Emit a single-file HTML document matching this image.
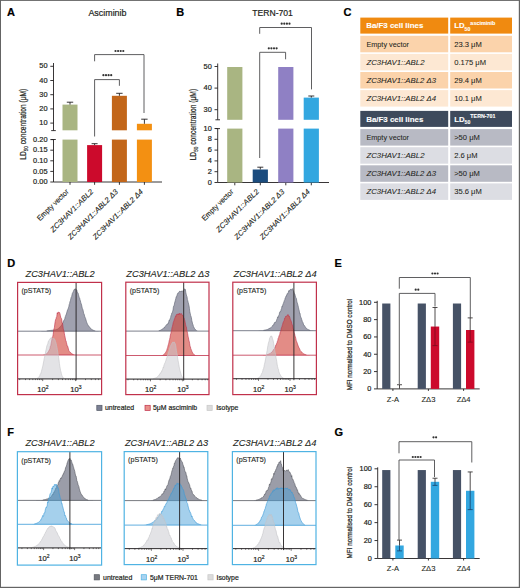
<!DOCTYPE html>
<html><head><meta charset="utf-8"><style>
html,body{margin:0;padding:0;background:#fff;}
body{width:520px;height:588px;overflow:hidden;}
svg{display:block;font-family:"Liberation Sans",sans-serif;}
</style></head><body>
<svg width="520" height="588" viewBox="0 0 520 588">
<rect x="0" y="0" width="520" height="588" fill="#fff"/>
<text x="7" y="15.8" font-size="11" text-anchor="start" font-weight="bold" font-style="normal" fill="#000" stroke="#000" stroke-width="0.2" >A</text>
<text x="88.4" y="16.4" font-size="9" text-anchor="start" font-weight="normal" font-style="normal" fill="#231f20" stroke="#231f20" stroke-width="0.2" textLength="38.1" lengthAdjust="spacingAndGlyphs" >Asciminib</text>
<line x1="53.50" y1="63.00" x2="53.50" y2="130.60" stroke="#231f20" stroke-width="0.9"/>
<line x1="51.20" y1="130.60" x2="55.80" y2="130.60" stroke="#231f20" stroke-width="0.9"/>
<line x1="53.50" y1="139.50" x2="53.50" y2="182.00" stroke="#231f20" stroke-width="0.9"/>
<line x1="51.20" y1="139.50" x2="55.80" y2="139.50" stroke="#231f20" stroke-width="0.9"/>
<line x1="50.30" y1="66.30" x2="53.50" y2="66.30" stroke="#231f20" stroke-width="0.9"/>
<text x="47.5" y="68.39999999999999" font-size="7.4" text-anchor="end" font-weight="normal" font-style="normal" fill="#231f20" stroke="#231f20" stroke-width="0.2" >50</text>
<line x1="50.30" y1="80.50" x2="53.50" y2="80.50" stroke="#231f20" stroke-width="0.9"/>
<text x="47.5" y="82.6" font-size="7.4" text-anchor="end" font-weight="normal" font-style="normal" fill="#231f20" stroke="#231f20" stroke-width="0.2" >40</text>
<line x1="50.30" y1="94.70" x2="53.50" y2="94.70" stroke="#231f20" stroke-width="0.9"/>
<text x="47.5" y="96.79999999999998" font-size="7.4" text-anchor="end" font-weight="normal" font-style="normal" fill="#231f20" stroke="#231f20" stroke-width="0.2" >30</text>
<line x1="50.30" y1="108.90" x2="53.50" y2="108.90" stroke="#231f20" stroke-width="0.9"/>
<text x="47.5" y="110.99999999999999" font-size="7.4" text-anchor="end" font-weight="normal" font-style="normal" fill="#231f20" stroke="#231f20" stroke-width="0.2" >20</text>
<line x1="50.30" y1="123.10" x2="53.50" y2="123.10" stroke="#231f20" stroke-width="0.9"/>
<text x="47.5" y="125.19999999999999" font-size="7.4" text-anchor="end" font-weight="normal" font-style="normal" fill="#231f20" stroke="#231f20" stroke-width="0.2" >10</text>
<line x1="50.30" y1="139.60" x2="53.50" y2="139.60" stroke="#231f20" stroke-width="0.9"/>
<text x="47.5" y="141.7" font-size="7.4" text-anchor="end" font-weight="normal" font-style="normal" fill="#231f20" stroke="#231f20" stroke-width="0.2" >0.20</text>
<line x1="50.30" y1="150.20" x2="53.50" y2="150.20" stroke="#231f20" stroke-width="0.9"/>
<text x="47.5" y="152.3" font-size="7.4" text-anchor="end" font-weight="normal" font-style="normal" fill="#231f20" stroke="#231f20" stroke-width="0.2" >0.15</text>
<line x1="50.30" y1="160.80" x2="53.50" y2="160.80" stroke="#231f20" stroke-width="0.9"/>
<text x="47.5" y="162.9" font-size="7.4" text-anchor="end" font-weight="normal" font-style="normal" fill="#231f20" stroke="#231f20" stroke-width="0.2" >0.10</text>
<line x1="50.30" y1="171.40" x2="53.50" y2="171.40" stroke="#231f20" stroke-width="0.9"/>
<text x="47.5" y="173.5" font-size="7.4" text-anchor="end" font-weight="normal" font-style="normal" fill="#231f20" stroke="#231f20" stroke-width="0.2" >0.05</text>
<line x1="50.30" y1="182.00" x2="53.50" y2="182.00" stroke="#231f20" stroke-width="0.9"/>
<text x="47.5" y="184.1" font-size="7.4" text-anchor="end" font-weight="normal" font-style="normal" fill="#231f20" stroke="#231f20" stroke-width="0.2" >0.00</text>
<line x1="53.50" y1="182.00" x2="162.00" y2="182.00" stroke="#231f20" stroke-width="0.9"/>
<line x1="70.00" y1="182.00" x2="70.00" y2="184.80" stroke="#231f20" stroke-width="0.9"/>
<rect x="62.50" y="104.60" width="15.00" height="25.70" fill="#a9b582" />
<rect x="62.50" y="139.60" width="15.00" height="42.40" fill="#a9b582" />
<line x1="70.00" y1="102.20" x2="70.00" y2="104.60" stroke="#231f20" stroke-width="0.9"/>
<line x1="66.80" y1="102.20" x2="73.20" y2="102.20" stroke="#231f20" stroke-width="0.9"/>
<line x1="94.60" y1="182.00" x2="94.60" y2="184.80" stroke="#231f20" stroke-width="0.9"/>
<rect x="87.10" y="145.10" width="15.00" height="36.90" fill="#cc0a2c" />
<line x1="94.60" y1="143.70" x2="94.60" y2="145.10" stroke="#231f20" stroke-width="0.9"/>
<line x1="91.60" y1="143.70" x2="97.60" y2="143.70" stroke="#231f20" stroke-width="0.9"/>
<line x1="119.40" y1="182.00" x2="119.40" y2="184.80" stroke="#231f20" stroke-width="0.9"/>
<rect x="111.90" y="95.80" width="15.00" height="34.50" fill="#c2661a" />
<rect x="111.90" y="139.60" width="15.00" height="42.40" fill="#c2661a" />
<line x1="119.40" y1="93.30" x2="119.40" y2="95.80" stroke="#231f20" stroke-width="0.9"/>
<line x1="116.20" y1="93.30" x2="122.60" y2="93.30" stroke="#231f20" stroke-width="0.9"/>
<line x1="144.40" y1="182.00" x2="144.40" y2="184.80" stroke="#231f20" stroke-width="0.9"/>
<rect x="136.90" y="123.80" width="15.00" height="6.50" fill="#f39012" />
<rect x="136.90" y="139.60" width="15.00" height="42.40" fill="#f39012" />
<line x1="144.40" y1="119.20" x2="144.40" y2="123.80" stroke="#231f20" stroke-width="0.9"/>
<line x1="141.20" y1="119.20" x2="147.60" y2="119.20" stroke="#231f20" stroke-width="0.9"/>
<polyline points="94.6,61.3 94.6,54.6 144,54.6 144,113" fill="none" stroke="#4d4d4f" stroke-width="0.9"/>
<polyline points="94.6,136.5 94.6,79.6 119.4,79.6 119.4,85.8" fill="none" stroke="#4d4d4f" stroke-width="0.9"/>
<circle cx="115.50" cy="51" r="1.1" fill="#333"/>
<circle cx="118.10" cy="51" r="1.1" fill="#333"/>
<circle cx="120.70" cy="51" r="1.1" fill="#333"/>
<circle cx="123.30" cy="51" r="1.1" fill="#333"/>
<circle cx="103.40" cy="75.2" r="1.1" fill="#333"/>
<circle cx="106.00" cy="75.2" r="1.1" fill="#333"/>
<circle cx="108.60" cy="75.2" r="1.1" fill="#333"/>
<circle cx="111.20" cy="75.2" r="1.1" fill="#333"/>
<text transform="translate(25.9,124.2) rotate(-90)" font-size="8.2" text-anchor="middle" fill="#231f20" stroke="#231f20" stroke-width="0.2" textLength="71" lengthAdjust="spacingAndGlyphs">LD<tspan font-size="5.6" dy="2.2">50</tspan><tspan dy="-2.2"> concentration (μM)</tspan></text>
<text transform="translate(69.10,192.20) rotate(-45)" font-size="7.5" text-anchor="end" font-style="normal" fill="#231f20" stroke="#231f20" stroke-width="0.12" textLength="41.2" lengthAdjust="spacingAndGlyphs">Empty vector</text>
<text transform="translate(93.70,192.20) rotate(-45)" font-size="7.5" text-anchor="end" font-style="italic" fill="#231f20" stroke="#231f20" stroke-width="0.12" textLength="57.2" lengthAdjust="spacingAndGlyphs">ZC3HAV1::ABL2</text>
<text transform="translate(118.50,192.20) rotate(-45)" font-size="7.5" text-anchor="end" font-style="italic" fill="#231f20" stroke="#231f20" stroke-width="0.12" textLength="67.5" lengthAdjust="spacingAndGlyphs">ZC3HAV1::ABL2 Δ3</text>
<text transform="translate(143.50,192.20) rotate(-45)" font-size="7.5" text-anchor="end" font-style="italic" fill="#231f20" stroke="#231f20" stroke-width="0.12" textLength="67.5" lengthAdjust="spacingAndGlyphs">ZC3HAV1::ABL2 Δ4</text>
<text x="176.3" y="16.3" font-size="11" text-anchor="start" font-weight="bold" font-style="normal" fill="#000" stroke="#000" stroke-width="0.2" >B</text>
<text x="252.3" y="16.4" font-size="9" text-anchor="start" font-weight="normal" font-style="normal" fill="#231f20" stroke="#231f20" stroke-width="0.2" textLength="40.6" lengthAdjust="spacingAndGlyphs" >TERN-701</text>
<line x1="217.70" y1="63.50" x2="217.70" y2="119.80" stroke="#231f20" stroke-width="0.9"/>
<line x1="215.40" y1="119.80" x2="220.00" y2="119.80" stroke="#231f20" stroke-width="0.9"/>
<line x1="217.70" y1="128.60" x2="217.70" y2="182.50" stroke="#231f20" stroke-width="0.9"/>
<line x1="215.40" y1="128.60" x2="220.00" y2="128.60" stroke="#231f20" stroke-width="0.9"/>
<line x1="214.50" y1="66.50" x2="217.70" y2="66.50" stroke="#231f20" stroke-width="0.9"/>
<text x="211.8" y="68.6" font-size="7.4" text-anchor="end" font-weight="normal" font-style="normal" fill="#231f20" stroke="#231f20" stroke-width="0.2" >50</text>
<line x1="214.50" y1="88.10" x2="217.70" y2="88.10" stroke="#231f20" stroke-width="0.9"/>
<text x="211.8" y="90.19999999999999" font-size="7.4" text-anchor="end" font-weight="normal" font-style="normal" fill="#231f20" stroke="#231f20" stroke-width="0.2" >40</text>
<line x1="214.50" y1="109.70" x2="217.70" y2="109.70" stroke="#231f20" stroke-width="0.9"/>
<text x="211.8" y="111.8" font-size="7.4" text-anchor="end" font-weight="normal" font-style="normal" fill="#231f20" stroke="#231f20" stroke-width="0.2" >30</text>
<line x1="214.50" y1="128.50" x2="217.70" y2="128.50" stroke="#231f20" stroke-width="0.9"/>
<text x="211.8" y="130.6" font-size="7.4" text-anchor="end" font-weight="normal" font-style="normal" fill="#231f20" stroke="#231f20" stroke-width="0.2" >10</text>
<line x1="214.50" y1="139.30" x2="217.70" y2="139.30" stroke="#231f20" stroke-width="0.9"/>
<text x="211.8" y="141.4" font-size="7.4" text-anchor="end" font-weight="normal" font-style="normal" fill="#231f20" stroke="#231f20" stroke-width="0.2" >8</text>
<line x1="214.50" y1="150.10" x2="217.70" y2="150.10" stroke="#231f20" stroke-width="0.9"/>
<text x="211.8" y="152.2" font-size="7.4" text-anchor="end" font-weight="normal" font-style="normal" fill="#231f20" stroke="#231f20" stroke-width="0.2" >6</text>
<line x1="214.50" y1="160.90" x2="217.70" y2="160.90" stroke="#231f20" stroke-width="0.9"/>
<text x="211.8" y="163.0" font-size="7.4" text-anchor="end" font-weight="normal" font-style="normal" fill="#231f20" stroke="#231f20" stroke-width="0.2" >4</text>
<line x1="214.50" y1="171.70" x2="217.70" y2="171.70" stroke="#231f20" stroke-width="0.9"/>
<text x="211.8" y="173.79999999999998" font-size="7.4" text-anchor="end" font-weight="normal" font-style="normal" fill="#231f20" stroke="#231f20" stroke-width="0.2" >2</text>
<line x1="214.50" y1="182.50" x2="217.70" y2="182.50" stroke="#231f20" stroke-width="0.9"/>
<text x="211.8" y="184.6" font-size="7.4" text-anchor="end" font-weight="normal" font-style="normal" fill="#231f20" stroke="#231f20" stroke-width="0.2" >0</text>
<line x1="217.70" y1="182.50" x2="329.00" y2="182.50" stroke="#231f20" stroke-width="0.9"/>
<line x1="234.80" y1="182.50" x2="234.80" y2="185.30" stroke="#231f20" stroke-width="0.9"/>
<rect x="227.20" y="67.00" width="15.20" height="52.80" fill="#a9b582" />
<rect x="227.20" y="128.60" width="15.20" height="53.90" fill="#a9b582" />
<line x1="260.30" y1="182.50" x2="260.30" y2="185.30" stroke="#231f20" stroke-width="0.9"/>
<rect x="252.70" y="169.50" width="15.20" height="13.00" fill="#1b4c7e" />
<line x1="260.30" y1="167.20" x2="260.30" y2="169.50" stroke="#231f20" stroke-width="0.9"/>
<line x1="257.30" y1="167.20" x2="263.30" y2="167.20" stroke="#231f20" stroke-width="0.9"/>
<line x1="285.80" y1="182.50" x2="285.80" y2="185.30" stroke="#231f20" stroke-width="0.9"/>
<rect x="278.20" y="67.00" width="15.20" height="52.80" fill="#8f80c4" />
<rect x="278.20" y="128.60" width="15.20" height="53.90" fill="#8f80c4" />
<line x1="311.30" y1="182.50" x2="311.30" y2="185.30" stroke="#231f20" stroke-width="0.9"/>
<rect x="303.70" y="97.60" width="15.20" height="22.20" fill="#33a7e0" />
<rect x="303.70" y="128.60" width="15.20" height="53.90" fill="#33a7e0" />
<line x1="311.30" y1="96.00" x2="311.30" y2="97.60" stroke="#231f20" stroke-width="0.9"/>
<line x1="308.30" y1="96.00" x2="314.30" y2="96.00" stroke="#231f20" stroke-width="0.9"/>
<polyline points="259.7,33.8 259.7,27.5 311.5,27.5 311.5,89.4" fill="none" stroke="#4d4d4f" stroke-width="0.9"/>
<polyline points="259.7,158 259.7,52.3 285.6,52.3 285.6,59.3" fill="none" stroke="#4d4d4f" stroke-width="0.9"/>
<circle cx="281.70" cy="23.7" r="1.1" fill="#333"/>
<circle cx="284.30" cy="23.7" r="1.1" fill="#333"/>
<circle cx="286.90" cy="23.7" r="1.1" fill="#333"/>
<circle cx="289.50" cy="23.7" r="1.1" fill="#333"/>
<circle cx="268.80" cy="48.3" r="1.1" fill="#333"/>
<circle cx="271.40" cy="48.3" r="1.1" fill="#333"/>
<circle cx="274.00" cy="48.3" r="1.1" fill="#333"/>
<circle cx="276.60" cy="48.3" r="1.1" fill="#333"/>
<text transform="translate(195.7,124.6) rotate(-90)" font-size="8.2" text-anchor="middle" fill="#231f20" stroke="#231f20" stroke-width="0.2" textLength="71.5" lengthAdjust="spacingAndGlyphs">LD<tspan font-size="5.6" dy="2.2">50</tspan><tspan dy="-2.2"> concentration (μM)</tspan></text>
<text transform="translate(233.90,192.20) rotate(-45)" font-size="7.5" text-anchor="end" font-style="normal" fill="#231f20" stroke="#231f20" stroke-width="0.12" textLength="41.2" lengthAdjust="spacingAndGlyphs">Empty vector</text>
<text transform="translate(259.40,192.20) rotate(-45)" font-size="7.5" text-anchor="end" font-style="italic" fill="#231f20" stroke="#231f20" stroke-width="0.12" textLength="57.2" lengthAdjust="spacingAndGlyphs">ZC3HAV1::ABL2</text>
<text transform="translate(284.90,192.20) rotate(-45)" font-size="7.5" text-anchor="end" font-style="italic" fill="#231f20" stroke="#231f20" stroke-width="0.12" textLength="67.5" lengthAdjust="spacingAndGlyphs">ZC3HAV1::ABL2 Δ3</text>
<text transform="translate(310.40,192.20) rotate(-45)" font-size="7.5" text-anchor="end" font-style="italic" fill="#231f20" stroke="#231f20" stroke-width="0.12" textLength="67.5" lengthAdjust="spacingAndGlyphs">ZC3HAV1::ABL2 Δ4</text>
<text x="343.5" y="16" font-size="11" text-anchor="start" font-weight="bold" font-style="normal" fill="#000" stroke="#000" stroke-width="0.2" >C</text>
<rect x="360.30" y="17.60" width="87.90" height="16.00" fill="#f08a10" />
<rect x="450.20" y="17.60" width="61.80" height="16.00" fill="#f08a10" />
<text x="366.2" y="28.400000000000002" font-size="7.6" text-anchor="start" font-weight="bold" font-style="normal" fill="#fff" stroke="#fff" stroke-width="0.1" textLength="57.2" lengthAdjust="spacingAndGlyphs" >Ba/F3 cell lines</text>
<text x="454.2" y="28.400000000000002" font-size="7.8" font-weight="bold" fill="#fff" stroke="#fff" stroke-width="0.1">LD<tspan font-size="5.2" dy="2.2">50</tspan><tspan font-size="5.2" dy="-5.6" textLength="25" lengthAdjust="spacingAndGlyphs">asciminib</tspan></text>
<rect x="360.30" y="35.80" width="87.90" height="16.50" fill="#fbd3ab" />
<rect x="450.20" y="35.80" width="61.80" height="16.50" fill="#fbd3ab" />
<text x="366.4" y="46.699999999999996" font-size="7.7" text-anchor="start" font-weight="normal" font-style="normal" fill="#231f20" stroke="#231f20" stroke-width="0.06" textLength="42.5" lengthAdjust="spacingAndGlyphs" >Empty vector</text>
<text x="454.2" y="46.699999999999996" font-size="7.6" text-anchor="start" font-weight="normal" font-style="normal" fill="#231f20" stroke="#231f20" stroke-width="0.06" >23.3 μM</text>
<rect x="360.30" y="53.90" width="87.90" height="16.50" fill="#fde8d3" />
<rect x="450.20" y="53.90" width="61.80" height="16.50" fill="#fde8d3" />
<text x="366.4" y="64.8" font-size="7.7" text-anchor="start" font-weight="normal" font-style="italic" fill="#231f20" stroke="#231f20" stroke-width="0.06" textLength="58.1" lengthAdjust="spacingAndGlyphs" >ZC3HAV1::ABL2</text>
<text x="454.2" y="64.8" font-size="7.6" text-anchor="start" font-weight="normal" font-style="normal" fill="#231f20" stroke="#231f20" stroke-width="0.06" >0.175 μM</text>
<rect x="360.30" y="72.00" width="87.90" height="16.50" fill="#fbd3ab" />
<rect x="450.20" y="72.00" width="61.80" height="16.50" fill="#fbd3ab" />
<text x="366.4" y="82.9" font-size="7.7" text-anchor="start" font-weight="normal" font-style="italic" fill="#231f20" stroke="#231f20" stroke-width="0.06" textLength="69.7" lengthAdjust="spacingAndGlyphs" >ZC3HAV1::ABL2 Δ3</text>
<text x="454.2" y="82.9" font-size="7.6" text-anchor="start" font-weight="normal" font-style="normal" fill="#231f20" stroke="#231f20" stroke-width="0.06" >29.4 μM</text>
<rect x="360.30" y="90.10" width="87.90" height="16.50" fill="#fde8d3" />
<rect x="450.20" y="90.10" width="61.80" height="16.50" fill="#fde8d3" />
<text x="366.4" y="101.0" font-size="7.7" text-anchor="start" font-weight="normal" font-style="italic" fill="#231f20" stroke="#231f20" stroke-width="0.06" textLength="69.7" lengthAdjust="spacingAndGlyphs" >ZC3HAV1::ABL2 Δ4</text>
<text x="454.2" y="101.0" font-size="7.6" text-anchor="start" font-weight="normal" font-style="normal" fill="#231f20" stroke="#231f20" stroke-width="0.06" >10.1 μM</text>
<rect x="360.30" y="110.90" width="87.90" height="16.00" fill="#3e4a5c" />
<rect x="450.20" y="110.90" width="61.80" height="16.00" fill="#3e4a5c" />
<text x="366.2" y="121.7" font-size="7.6" text-anchor="start" font-weight="bold" font-style="normal" fill="#fff" stroke="#fff" stroke-width="0.1" textLength="57.2" lengthAdjust="spacingAndGlyphs" >Ba/F3 cell lines</text>
<text x="454.2" y="121.7" font-size="7.8" font-weight="bold" fill="#fff" stroke="#fff" stroke-width="0.1">LD<tspan font-size="5.2" dy="2.2">50</tspan><tspan font-size="5.2" dy="-5.6" textLength="25" lengthAdjust="spacingAndGlyphs">TERN-701</tspan></text>
<rect x="360.30" y="129.10" width="87.90" height="16.50" fill="#b8bac4" />
<rect x="450.20" y="129.10" width="61.80" height="16.50" fill="#b8bac4" />
<text x="366.4" y="140.0" font-size="7.7" text-anchor="start" font-weight="normal" font-style="normal" fill="#231f20" stroke="#231f20" stroke-width="0.06" textLength="42.5" lengthAdjust="spacingAndGlyphs" >Empty vector</text>
<text x="454.2" y="140.0" font-size="7.6" text-anchor="start" font-weight="normal" font-style="normal" fill="#231f20" stroke="#231f20" stroke-width="0.06" >&gt;50 μM</text>
<rect x="360.30" y="147.20" width="87.90" height="16.50" fill="#dcdde3" />
<rect x="450.20" y="147.20" width="61.80" height="16.50" fill="#dcdde3" />
<text x="366.4" y="158.1" font-size="7.7" text-anchor="start" font-weight="normal" font-style="italic" fill="#231f20" stroke="#231f20" stroke-width="0.06" textLength="58.1" lengthAdjust="spacingAndGlyphs" >ZC3HAV1::ABL2</text>
<text x="454.2" y="158.1" font-size="7.6" text-anchor="start" font-weight="normal" font-style="normal" fill="#231f20" stroke="#231f20" stroke-width="0.06" >2.6 μM</text>
<rect x="360.30" y="165.30" width="87.90" height="16.50" fill="#b8bac4" />
<rect x="450.20" y="165.30" width="61.80" height="16.50" fill="#b8bac4" />
<text x="366.4" y="176.20000000000002" font-size="7.7" text-anchor="start" font-weight="normal" font-style="italic" fill="#231f20" stroke="#231f20" stroke-width="0.06" textLength="69.7" lengthAdjust="spacingAndGlyphs" >ZC3HAV1::ABL2 Δ3</text>
<text x="454.2" y="176.20000000000002" font-size="7.6" text-anchor="start" font-weight="normal" font-style="normal" fill="#231f20" stroke="#231f20" stroke-width="0.06" >&gt;50 μM</text>
<rect x="360.30" y="183.40" width="87.90" height="16.50" fill="#dcdde3" />
<rect x="450.20" y="183.40" width="61.80" height="16.50" fill="#dcdde3" />
<text x="366.4" y="194.3" font-size="7.7" text-anchor="start" font-weight="normal" font-style="italic" fill="#231f20" stroke="#231f20" stroke-width="0.06" textLength="69.7" lengthAdjust="spacingAndGlyphs" >ZC3HAV1::ABL2 Δ4</text>
<text x="454.2" y="194.3" font-size="7.6" text-anchor="start" font-weight="normal" font-style="normal" fill="#231f20" stroke="#231f20" stroke-width="0.06" >35.6 μM</text>
<text x="7.2" y="266.8" font-size="11" text-anchor="start" font-weight="bold" font-style="normal" fill="#000" stroke="#000" stroke-width="0.2" >D</text>
<text x="60.1" y="277.0" font-size="9.3" text-anchor="middle" font-weight="normal" font-style="italic" fill="#231f20" stroke="#231f20" stroke-width="0.1" >ZC3HAV1::ABL2</text>
<clipPath id="c17282"><rect x="17.6" y="282.4" width="84" height="112.2"/></clipPath>
<g clip-path="url(#c17282)">
<path d="M38.00,331.20 L38.00,331.18 L38.40,331.18 L38.80,331.17 L39.20,331.17 L39.60,331.16 L40.00,331.16 L40.40,331.15 L40.80,331.14 L41.20,331.13 L41.60,331.12 L42.00,331.10 L42.40,331.09 L42.80,331.07 L43.20,331.06 L43.60,331.04 L44.00,331.01 L44.40,330.99 L44.80,330.96 L45.20,330.94 L45.60,330.91 L46.00,330.88 L46.40,330.84 L46.80,330.81 L47.20,330.77 L47.60,330.73 L48.00,330.69 L48.40,330.65 L48.80,330.61 L49.20,330.57 L49.60,330.53 L50.00,330.48 L50.40,330.44 L50.80,330.40 L51.20,330.35 L51.60,330.31 L52.00,330.27 L52.40,330.23 L52.80,330.18 L53.20,330.09 L53.60,330.01 L54.00,330.07 L54.40,329.93 L54.80,329.88 L55.20,329.81 L55.60,329.85 L56.00,329.78 L56.40,329.59 L56.80,329.36 L57.20,329.35 L57.60,329.10 L58.00,328.95 L58.40,328.52 L58.80,328.18 L59.20,328.10 L59.60,327.43 L60.00,327.54 L60.40,326.62 L60.80,326.04 L61.20,326.04 L61.60,324.95 L62.00,324.41 L62.40,323.23 L62.80,323.31 L63.20,322.09 L63.60,320.80 L64.00,320.16 L64.40,319.58 L64.80,318.84 L65.20,316.75 L65.60,316.21 L66.00,314.45 L66.40,314.31 L66.80,312.31 L67.20,311.07 L67.60,309.68 L68.00,309.46 L68.40,307.71 L68.80,306.74 L69.20,304.52 L69.60,303.59 L70.00,301.45 L70.40,300.73 L70.80,298.83 L71.20,297.32 L71.60,296.70 L72.00,295.00 L72.40,293.26 L72.80,292.62 L73.20,291.78 L73.60,290.98 L74.00,289.61 L74.40,289.76 L74.80,288.91 L75.20,288.83 L75.60,288.93 L76.00,289.78 L76.40,289.72 L76.80,290.13 L77.20,291.67 L77.60,292.57 L78.00,292.88 L78.40,294.37 L78.80,295.91 L79.20,297.46 L79.60,297.87 L80.00,299.71 L80.40,300.96 L80.80,302.63 L81.20,303.66 L81.60,305.02 L82.00,307.01 L82.40,308.77 L82.80,309.15 L83.20,310.69 L83.60,313.18 L84.00,313.91 L84.40,315.11 L84.80,316.74 L85.20,317.59 L85.60,318.49 L86.00,320.05 L86.40,321.35 L86.80,322.57 L87.20,323.43 L87.60,324.37 L88.00,325.16 L88.40,325.75 L88.80,325.91 L89.20,326.75 L89.60,327.15 L90.00,327.61 L90.40,328.12 L90.80,328.83 L91.20,328.87 L91.60,329.43 L92.00,329.52 L92.40,329.76 L92.80,330.01 L93.20,330.22 L93.60,330.37 L94.00,330.51 L94.40,330.62 L94.80,330.72 L95.20,330.80 L95.60,330.87 L96.00,330.93 L96.40,330.98 L96.80,331.02 L97.20,331.05 L97.60,331.08 L98.00,331.10 L98.40,331.12 L98.80,331.14 L99.20,331.15 L99.60,331.16 L100.00,331.17 L100.00,331.20 Z" fill="#8f91a1" fill-opacity="0.85"/>
<path d="M47.20,330.77 L47.60,330.73 L48.00,330.69 L48.40,330.65 L48.80,330.61 L49.20,330.57 L49.60,330.53 L50.00,330.48 L50.40,330.44 L50.80,330.40 L51.20,330.35 L51.60,330.31 L52.00,330.27 L52.40,330.23 L52.80,330.18 L53.20,330.09 L53.60,330.01 L54.00,330.07 L54.40,329.93 L54.80,329.88 L55.20,329.81 L55.60,329.85 L56.00,329.78 L56.40,329.59 L56.80,329.36 L57.20,329.35 L57.60,329.10 L58.00,328.95 L58.40,328.52 L58.80,328.18 L59.20,328.10 L59.60,327.43 L60.00,327.54 L60.40,326.62 L60.80,326.04 L61.20,326.04 L61.60,324.95 L62.00,324.41 L62.40,323.23 L62.80,323.31 L63.20,322.09 L63.60,320.80 L64.00,320.16 L64.40,319.58 L64.80,318.84 L65.20,316.75 L65.60,316.21 L66.00,314.45 L66.40,314.31 L66.80,312.31 L67.20,311.07 L67.60,309.68 L68.00,309.46 L68.40,307.71 L68.80,306.74 L69.20,304.52 L69.60,303.59 L70.00,301.45 L70.40,300.73 L70.80,298.83 L71.20,297.32 L71.60,296.70 L72.00,295.00 L72.40,293.26 L72.80,292.62 L73.20,291.78 L73.60,290.98 L74.00,289.61 L74.40,289.76 L74.80,288.91 L75.20,288.83 L75.60,288.93 L76.00,289.78 L76.40,289.72 L76.80,290.13 L77.20,291.67 L77.60,292.57 L78.00,292.88 L78.40,294.37 L78.80,295.91 L79.20,297.46 L79.60,297.87 L80.00,299.71 L80.40,300.96 L80.80,302.63 L81.20,303.66 L81.60,305.02 L82.00,307.01 L82.40,308.77 L82.80,309.15 L83.20,310.69 L83.60,313.18 L84.00,313.91 L84.40,315.11 L84.80,316.74 L85.20,317.59 L85.60,318.49 L86.00,320.05 L86.40,321.35 L86.80,322.57 L87.20,323.43 L87.60,324.37 L88.00,325.16 L88.40,325.75 L88.80,325.91 L89.20,326.75 L89.60,327.15 L90.00,327.61 L90.40,328.12 L90.80,328.83 L91.20,328.87 L91.60,329.43 L92.00,329.52 L92.40,329.76 L92.80,330.01 L93.20,330.22 L93.60,330.37 L94.00,330.51 L94.40,330.62 L94.80,330.72" fill="none" stroke="#5a5f6e" stroke-width="0.6"/>
<line x1="17.60" y1="331.20" x2="101.60" y2="331.20" stroke="#5a5f6e" stroke-width="0.8"/>
<path d="M40.00,355.00 L40.00,354.99 L40.40,354.99 L40.80,354.98 L41.20,354.97 L41.60,354.96 L42.00,354.95 L42.40,354.93 L42.80,354.90 L43.20,354.87 L43.60,354.82 L44.00,354.76 L44.40,354.68 L44.80,354.59 L45.20,354.46 L45.60,354.30 L46.00,354.10 L46.40,353.96 L46.80,353.48 L47.20,353.27 L47.60,352.93 L48.00,352.20 L48.40,351.57 L48.80,350.84 L49.20,350.02 L49.60,349.39 L50.00,348.36 L50.40,346.09 L50.80,345.54 L51.20,343.12 L51.60,341.13 L52.00,339.07 L52.40,336.89 L52.80,336.49 L53.20,334.28 L53.60,330.83 L54.00,328.91 L54.40,327.51 L54.80,324.11 L55.20,321.46 L55.60,319.49 L56.00,319.08 L56.40,317.18 L56.80,316.42 L57.20,312.89 L57.60,313.81 L58.00,312.01 L58.40,312.21 L58.80,312.14 L59.20,312.64 L59.60,312.53 L60.00,313.93 L60.40,315.74 L60.80,317.50 L61.20,318.14 L61.60,318.74 L62.00,322.42 L62.40,323.05 L62.80,325.18 L63.20,328.36 L63.60,330.32 L64.00,331.23 L64.40,333.86 L64.80,335.91 L65.20,337.64 L65.60,340.37 L66.00,340.64 L66.40,342.53 L66.80,344.15 L67.20,345.99 L67.60,346.10 L68.00,347.29 L68.40,348.90 L68.80,350.51 L69.20,351.13 L69.60,351.75 L70.00,352.35 L70.40,352.37 L70.80,352.90 L71.20,353.45 L71.60,353.45 L72.00,353.84 L72.40,354.10 L72.80,354.28 L73.20,354.43 L73.60,354.55 L74.00,354.65 L74.40,354.73 L74.80,354.79 L75.20,354.84 L75.60,354.88 L76.00,354.91 L76.40,354.93 L76.80,354.95 L77.20,354.96 L77.60,354.97 L78.00,354.98 L78.40,354.98 L78.80,354.99 L79.20,354.99 L79.60,354.99 L80.00,355.00 L80.00,355.00 Z" fill="#d2463c" fill-opacity="0.62"/>
<path d="M44.80,354.59 L45.20,354.46 L45.60,354.30 L46.00,354.10 L46.40,353.96 L46.80,353.48 L47.20,353.27 L47.60,352.93 L48.00,352.20 L48.40,351.57 L48.80,350.84 L49.20,350.02 L49.60,349.39 L50.00,348.36 L50.40,346.09 L50.80,345.54 L51.20,343.12 L51.60,341.13 L52.00,339.07 L52.40,336.89 L52.80,336.49 L53.20,334.28 L53.60,330.83 L54.00,328.91 L54.40,327.51 L54.80,324.11 L55.20,321.46 L55.60,319.49 L56.00,319.08 L56.40,317.18 L56.80,316.42 L57.20,312.89 L57.60,313.81 L58.00,312.01 L58.40,312.21 L58.80,312.14 L59.20,312.64 L59.60,312.53 L60.00,313.93 L60.40,315.74 L60.80,317.50 L61.20,318.14 L61.60,318.74 L62.00,322.42 L62.40,323.05 L62.80,325.18 L63.20,328.36 L63.60,330.32 L64.00,331.23 L64.40,333.86 L64.80,335.91 L65.20,337.64 L65.60,340.37 L66.00,340.64 L66.40,342.53 L66.80,344.15 L67.20,345.99 L67.60,346.10 L68.00,347.29 L68.40,348.90 L68.80,350.51 L69.20,351.13 L69.60,351.75 L70.00,352.35 L70.40,352.37 L70.80,352.90 L71.20,353.45 L71.60,353.45 L72.00,353.84 L72.40,354.10 L72.80,354.28 L73.20,354.43 L73.60,354.55" fill="none" stroke="#c0304a" stroke-width="0.6"/>
<line x1="17.60" y1="355.00" x2="101.60" y2="355.00" stroke="#c0304a" stroke-width="0.8"/>
<path d="M35.00,378.90 L35.00,378.84 L35.40,378.80 L35.80,378.75 L36.20,378.68 L36.60,378.58 L37.00,378.45 L37.40,378.27 L37.80,378.03 L38.20,377.69 L38.60,377.26 L39.00,376.83 L39.40,376.23 L39.80,375.56 L40.20,374.34 L40.60,373.82 L41.00,372.84 L41.40,371.48 L41.80,370.04 L42.20,368.38 L42.60,366.74 L43.00,365.11 L43.40,362.94 L43.80,360.98 L44.20,358.66 L44.60,357.07 L45.00,355.22 L45.40,353.11 L45.80,350.81 L46.20,349.20 L46.60,347.11 L47.00,345.48 L47.40,344.55 L47.80,343.68 L48.20,341.83 L48.60,340.87 L49.00,340.51 L49.40,339.56 L49.80,339.49 L50.20,338.36 L50.60,338.18 L51.00,338.05 L51.40,337.74 L51.80,338.55 L52.20,338.15 L52.60,337.92 L53.00,337.85 L53.40,338.39 L53.80,338.84 L54.20,338.55 L54.60,339.64 L55.00,339.61 L55.40,341.39 L55.80,342.07 L56.20,343.55 L56.60,345.78 L57.00,347.42 L57.40,349.71 L57.80,352.38 L58.20,354.41 L58.60,357.20 L59.00,359.92 L59.40,363.39 L59.80,366.21 L60.20,368.17 L60.60,370.63 L61.00,371.83 L61.40,373.84 L61.80,375.20 L62.20,376.14 L62.60,376.91 L63.00,377.47 L63.40,377.98 L63.80,378.30 L64.20,378.53 L64.60,378.67 L65.00,378.77 L65.40,378.83 L65.80,378.86 L66.20,378.88 L66.60,378.89 L67.00,378.89 L67.40,378.90 L67.80,378.90 L68.20,378.90 L68.60,378.90 L69.00,378.90 L69.40,378.90 L69.80,378.90 L70.00,378.90 Z" fill="#c8c8ce" fill-opacity="0.5"/>
<path d="M37.00,378.45 L37.40,378.27 L37.80,378.03 L38.20,377.69 L38.60,377.26 L39.00,376.83 L39.40,376.23 L39.80,375.56 L40.20,374.34 L40.60,373.82 L41.00,372.84 L41.40,371.48 L41.80,370.04 L42.20,368.38 L42.60,366.74 L43.00,365.11 L43.40,362.94 L43.80,360.98 L44.20,358.66 L44.60,357.07 L45.00,355.22 L45.40,353.11 L45.80,350.81 L46.20,349.20 L46.60,347.11 L47.00,345.48 L47.40,344.55 L47.80,343.68 L48.20,341.83 L48.60,340.87 L49.00,340.51 L49.40,339.56 L49.80,339.49 L50.20,338.36 L50.60,338.18 L51.00,338.05 L51.40,337.74 L51.80,338.55 L52.20,338.15 L52.60,337.92 L53.00,337.85 L53.40,338.39 L53.80,338.84 L54.20,338.55 L54.60,339.64 L55.00,339.61 L55.40,341.39 L55.80,342.07 L56.20,343.55 L56.60,345.78 L57.00,347.42 L57.40,349.71 L57.80,352.38 L58.20,354.41 L58.60,357.20 L59.00,359.92 L59.40,363.39 L59.80,366.21 L60.20,368.17 L60.60,370.63 L61.00,371.83 L61.40,373.84 L61.80,375.20 L62.20,376.14 L62.60,376.91 L63.00,377.47 L63.40,377.98 L63.80,378.30" fill="none" stroke="#c4c4c8" stroke-width="0.6"/>
<line x1="17.60" y1="378.90" x2="101.60" y2="378.90" stroke="#c4c4c8" stroke-width="0.8"/>
</g>
<line x1="17.60" y1="378.90" x2="101.60" y2="378.90" stroke="#231f20" stroke-width="0.9"/>
<line x1="19.70" y1="378.90" x2="19.70" y2="380.10" stroke="#231f20" stroke-width="0.6"/>
<line x1="25.50" y1="378.90" x2="25.50" y2="380.10" stroke="#231f20" stroke-width="0.6"/>
<line x1="29.61" y1="378.90" x2="29.61" y2="380.10" stroke="#231f20" stroke-width="0.6"/>
<line x1="32.80" y1="378.90" x2="32.80" y2="380.10" stroke="#231f20" stroke-width="0.6"/>
<line x1="35.40" y1="378.90" x2="35.40" y2="380.10" stroke="#231f20" stroke-width="0.6"/>
<line x1="37.60" y1="378.90" x2="37.60" y2="380.10" stroke="#231f20" stroke-width="0.6"/>
<line x1="39.51" y1="378.90" x2="39.51" y2="380.10" stroke="#231f20" stroke-width="0.6"/>
<line x1="41.19" y1="378.90" x2="41.19" y2="380.10" stroke="#231f20" stroke-width="0.6"/>
<line x1="42.70" y1="378.90" x2="42.70" y2="381.10" stroke="#231f20" stroke-width="0.6"/>
<line x1="52.60" y1="378.90" x2="52.60" y2="380.10" stroke="#231f20" stroke-width="0.6"/>
<line x1="58.40" y1="378.90" x2="58.40" y2="380.10" stroke="#231f20" stroke-width="0.6"/>
<line x1="62.51" y1="378.90" x2="62.51" y2="380.10" stroke="#231f20" stroke-width="0.6"/>
<line x1="65.70" y1="378.90" x2="65.70" y2="380.10" stroke="#231f20" stroke-width="0.6"/>
<line x1="68.30" y1="378.90" x2="68.30" y2="380.10" stroke="#231f20" stroke-width="0.6"/>
<line x1="70.50" y1="378.90" x2="70.50" y2="380.10" stroke="#231f20" stroke-width="0.6"/>
<line x1="72.41" y1="378.90" x2="72.41" y2="380.10" stroke="#231f20" stroke-width="0.6"/>
<line x1="74.09" y1="378.90" x2="74.09" y2="380.10" stroke="#231f20" stroke-width="0.6"/>
<line x1="75.60" y1="378.90" x2="75.60" y2="381.10" stroke="#231f20" stroke-width="0.6"/>
<line x1="85.50" y1="378.90" x2="85.50" y2="380.10" stroke="#231f20" stroke-width="0.6"/>
<line x1="91.30" y1="378.90" x2="91.30" y2="380.10" stroke="#231f20" stroke-width="0.6"/>
<line x1="95.41" y1="378.90" x2="95.41" y2="380.10" stroke="#231f20" stroke-width="0.6"/>
<line x1="98.60" y1="378.90" x2="98.60" y2="380.10" stroke="#231f20" stroke-width="0.6"/>
<line x1="76.10" y1="282.40" x2="76.10" y2="380.40" stroke="#231f20" stroke-width="0.9"/>
<text x="42.9" y="392.1" font-size="7.6" text-anchor="middle" fill="#231f20" stroke="#231f20" stroke-width="0.2">10<tspan font-size="5" dy="-3.2">2</tspan></text>
<text x="75.8" y="392.1" font-size="7.6" text-anchor="middle" fill="#231f20" stroke="#231f20" stroke-width="0.2">10<tspan font-size="5" dy="-3.2">3</tspan></text>
<text x="21.5" y="293.2" font-size="7.1" text-anchor="start" font-weight="normal" font-style="normal" fill="#231f20" stroke="#231f20" stroke-width="0.12" >(pSTAT5)</text>
<rect x="17.6" y="282.4" width="84" height="112.2" fill="none" stroke="#c0304a" stroke-width="1.2"/>
<text x="167.9" y="276.8" font-size="9.3" text-anchor="middle" font-weight="normal" font-style="italic" fill="#231f20" stroke="#231f20" stroke-width="0.1" >ZC3HAV1::ABL2 Δ3</text>
<clipPath id="c125282"><rect x="125.8" y="282.2" width="83.2" height="112.4"/></clipPath>
<g clip-path="url(#c125282)">
<path d="M145.00,331.10 L145.00,331.10 L145.40,331.10 L145.80,331.10 L146.20,331.10 L146.60,331.10 L147.00,331.10 L147.40,331.10 L147.80,331.10 L148.20,331.10 L148.60,331.10 L149.00,331.10 L149.40,331.10 L149.80,331.10 L150.20,331.10 L150.60,331.10 L151.00,331.10 L151.40,331.10 L151.80,331.10 L152.20,331.10 L152.60,331.10 L153.00,331.10 L153.40,331.09 L153.80,331.09 L154.20,331.09 L154.60,331.08 L155.00,331.07 L155.40,331.06 L155.80,331.05 L156.20,331.03 L156.60,331.01 L157.00,330.98 L157.40,330.94 L157.80,330.90 L158.20,330.84 L158.60,330.77 L159.00,330.68 L159.40,330.58 L159.80,330.46 L160.20,330.32 L160.60,330.15 L161.00,329.85 L161.40,329.84 L161.80,329.39 L162.20,329.34 L162.60,328.84 L163.00,328.75 L163.40,328.25 L163.80,327.88 L164.20,328.04 L164.60,327.02 L165.00,327.19 L165.40,326.40 L165.80,325.56 L166.20,325.34 L166.60,324.67 L167.00,324.89 L167.40,324.04 L167.80,324.05 L168.20,322.84 L168.60,322.84 L169.00,320.52 L169.40,320.98 L169.80,319.41 L170.20,318.54 L170.60,317.65 L171.00,315.52 L171.40,314.75 L171.80,313.12 L172.20,312.87 L172.60,311.40 L173.00,310.08 L173.40,307.06 L173.80,305.87 L174.20,305.33 L174.60,303.06 L175.00,301.48 L175.40,300.16 L175.80,298.56 L176.20,296.65 L176.60,296.74 L177.00,295.20 L177.40,294.08 L177.80,293.18 L178.20,293.35 L178.60,292.59 L179.00,291.78 L179.40,291.61 L179.80,291.14 L180.20,291.37 L180.60,291.93 L181.00,291.14 L181.40,291.30 L181.80,290.93 L182.20,291.40 L182.60,291.14 L183.00,290.71 L183.40,291.31 L183.80,290.55 L184.20,290.18 L184.60,288.75 L185.00,289.25 L185.40,289.53 L185.80,292.37 L186.20,294.19 L186.60,295.98 L187.00,296.65 L187.40,299.55 L187.80,300.79 L188.20,302.40 L188.60,304.12 L189.00,305.60 L189.40,308.35 L189.80,311.56 L190.20,313.21 L190.60,315.39 L191.00,316.26 L191.40,317.72 L191.80,320.49 L192.20,321.93 L192.60,324.00 L193.00,324.61 L193.40,326.39 L193.80,326.93 L194.20,328.09 L194.60,328.61 L195.00,329.06 L195.40,329.57 L195.80,330.03 L196.20,330.37 L196.60,330.59 L197.00,330.74 L197.40,330.86 L197.80,330.94 L198.20,331.00 L198.60,331.03 L199.00,331.06 L199.40,331.07 L199.80,331.08 L200.20,331.09 L200.60,331.10 L201.00,331.10 L201.40,331.10 L201.80,331.10 L202.20,331.10 L202.60,331.10 L203.00,331.10 L203.40,331.10 L203.80,331.10 L204.20,331.10 L204.60,331.10 L205.00,331.10 L205.40,331.10 L205.80,331.10 L206.20,331.10 L206.60,331.10 L207.00,331.10 L207.40,331.10 L207.80,331.10 L208.00,331.10 Z" fill="#8f91a1" fill-opacity="0.85"/>
<path d="M159.00,330.68 L159.40,330.58 L159.80,330.46 L160.20,330.32 L160.60,330.15 L161.00,329.85 L161.40,329.84 L161.80,329.39 L162.20,329.34 L162.60,328.84 L163.00,328.75 L163.40,328.25 L163.80,327.88 L164.20,328.04 L164.60,327.02 L165.00,327.19 L165.40,326.40 L165.80,325.56 L166.20,325.34 L166.60,324.67 L167.00,324.89 L167.40,324.04 L167.80,324.05 L168.20,322.84 L168.60,322.84 L169.00,320.52 L169.40,320.98 L169.80,319.41 L170.20,318.54 L170.60,317.65 L171.00,315.52 L171.40,314.75 L171.80,313.12 L172.20,312.87 L172.60,311.40 L173.00,310.08 L173.40,307.06 L173.80,305.87 L174.20,305.33 L174.60,303.06 L175.00,301.48 L175.40,300.16 L175.80,298.56 L176.20,296.65 L176.60,296.74 L177.00,295.20 L177.40,294.08 L177.80,293.18 L178.20,293.35 L178.60,292.59 L179.00,291.78 L179.40,291.61 L179.80,291.14 L180.20,291.37 L180.60,291.93 L181.00,291.14 L181.40,291.30 L181.80,290.93 L182.20,291.40 L182.60,291.14 L183.00,290.71 L183.40,291.31 L183.80,290.55 L184.20,290.18 L184.60,288.75 L185.00,289.25 L185.40,289.53 L185.80,292.37 L186.20,294.19 L186.60,295.98 L187.00,296.65 L187.40,299.55 L187.80,300.79 L188.20,302.40 L188.60,304.12 L189.00,305.60 L189.40,308.35 L189.80,311.56 L190.20,313.21 L190.60,315.39 L191.00,316.26 L191.40,317.72 L191.80,320.49 L192.20,321.93 L192.60,324.00 L193.00,324.61 L193.40,326.39 L193.80,326.93 L194.20,328.09 L194.60,328.61 L195.00,329.06 L195.40,329.57 L195.80,330.03 L196.20,330.37 L196.60,330.59" fill="none" stroke="#5a5f6e" stroke-width="0.6"/>
<line x1="125.80" y1="331.10" x2="209.00" y2="331.10" stroke="#5a5f6e" stroke-width="0.8"/>
<path d="M150.00,355.50 L150.00,355.50 L150.40,355.50 L150.80,355.50 L151.20,355.50 L151.60,355.50 L152.00,355.50 L152.40,355.50 L152.80,355.50 L153.20,355.50 L153.60,355.50 L154.00,355.50 L154.40,355.50 L154.80,355.50 L155.20,355.50 L155.60,355.50 L156.00,355.50 L156.40,355.50 L156.80,355.50 L157.20,355.50 L157.60,355.50 L158.00,355.50 L158.40,355.50 L158.80,355.49 L159.20,355.49 L159.60,355.48 L160.00,355.47 L160.40,355.45 L160.80,355.43 L161.20,355.40 L161.60,355.35 L162.00,355.28 L162.40,355.18 L162.80,355.06 L163.20,354.89 L163.60,354.68 L164.00,354.39 L164.40,354.04 L164.80,353.65 L165.20,353.04 L165.60,352.50 L166.00,351.76 L166.40,351.19 L166.80,350.29 L167.20,348.57 L167.60,348.13 L168.00,345.80 L168.40,344.50 L168.80,343.15 L169.20,340.76 L169.60,339.55 L170.00,337.62 L170.40,335.09 L170.80,333.67 L171.20,331.67 L171.60,330.59 L172.00,327.74 L172.40,326.49 L172.80,325.01 L173.20,322.70 L173.60,321.62 L174.00,320.55 L174.40,319.08 L174.80,318.31 L175.20,317.16 L175.60,315.86 L176.00,316.37 L176.40,314.49 L176.80,314.44 L177.20,314.17 L177.60,314.73 L178.00,313.82 L178.40,314.74 L178.80,313.81 L179.20,314.11 L179.60,313.23 L180.00,314.56 L180.40,313.94 L180.80,313.90 L181.20,313.41 L181.60,314.45 L182.00,314.84 L182.40,315.10 L182.80,315.24 L183.20,316.08 L183.60,317.52 L184.00,317.99 L184.40,319.54 L184.80,320.53 L185.20,322.42 L185.60,324.61 L186.00,326.36 L186.40,327.04 L186.80,330.51 L187.20,331.67 L187.60,333.47 L188.00,336.17 L188.40,337.58 L188.80,340.06 L189.20,341.29 L189.60,343.26 L190.00,346.17 L190.40,346.71 L190.80,348.73 L191.20,349.50 L191.60,350.51 L192.00,351.63 L192.40,352.36 L192.80,353.25 L193.20,353.80 L193.60,354.09 L194.00,354.53 L194.40,354.80 L194.80,355.00 L195.20,355.15 L195.60,355.26 L196.00,355.34 L196.40,355.39 L196.80,355.43 L197.20,355.46 L197.60,355.47 L198.00,355.48 L198.40,355.49 L198.80,355.49 L199.20,355.50 L199.60,355.50 L200.00,355.50 L200.40,355.50 L200.80,355.50 L201.20,355.50 L201.60,355.50 L202.00,355.50 L202.40,355.50 L202.80,355.50 L203.20,355.50 L203.60,355.50 L204.00,355.50 L204.40,355.50 L204.80,355.50 L205.00,355.50 Z" fill="#d2463c" fill-opacity="0.62"/>
<path d="M162.80,355.06 L163.20,354.89 L163.60,354.68 L164.00,354.39 L164.40,354.04 L164.80,353.65 L165.20,353.04 L165.60,352.50 L166.00,351.76 L166.40,351.19 L166.80,350.29 L167.20,348.57 L167.60,348.13 L168.00,345.80 L168.40,344.50 L168.80,343.15 L169.20,340.76 L169.60,339.55 L170.00,337.62 L170.40,335.09 L170.80,333.67 L171.20,331.67 L171.60,330.59 L172.00,327.74 L172.40,326.49 L172.80,325.01 L173.20,322.70 L173.60,321.62 L174.00,320.55 L174.40,319.08 L174.80,318.31 L175.20,317.16 L175.60,315.86 L176.00,316.37 L176.40,314.49 L176.80,314.44 L177.20,314.17 L177.60,314.73 L178.00,313.82 L178.40,314.74 L178.80,313.81 L179.20,314.11 L179.60,313.23 L180.00,314.56 L180.40,313.94 L180.80,313.90 L181.20,313.41 L181.60,314.45 L182.00,314.84 L182.40,315.10 L182.80,315.24 L183.20,316.08 L183.60,317.52 L184.00,317.99 L184.40,319.54 L184.80,320.53 L185.20,322.42 L185.60,324.61 L186.00,326.36 L186.40,327.04 L186.80,330.51 L187.20,331.67 L187.60,333.47 L188.00,336.17 L188.40,337.58 L188.80,340.06 L189.20,341.29 L189.60,343.26 L190.00,346.17 L190.40,346.71 L190.80,348.73 L191.20,349.50 L191.60,350.51 L192.00,351.63 L192.40,352.36 L192.80,353.25 L193.20,353.80 L193.60,354.09 L194.00,354.53 L194.40,354.80 L194.80,355.00" fill="none" stroke="#c0304a" stroke-width="0.6"/>
<line x1="125.80" y1="355.50" x2="209.00" y2="355.50" stroke="#c0304a" stroke-width="0.8"/>
<path d="M150.00,379.10 L150.00,379.00 L150.40,378.97 L150.80,378.95 L151.20,378.92 L151.60,378.88 L152.00,378.83 L152.40,378.78 L152.80,378.72 L153.20,378.65 L153.60,378.57 L154.00,378.48 L154.40,378.37 L154.80,378.24 L155.20,378.19 L155.60,377.90 L156.00,377.73 L156.40,377.66 L156.80,377.46 L157.20,376.84 L157.60,376.77 L158.00,376.49 L158.40,375.91 L158.80,375.29 L159.20,375.29 L159.60,374.24 L160.00,374.28 L160.40,372.98 L160.80,372.59 L161.20,372.67 L161.60,370.74 L162.00,371.22 L162.40,370.38 L162.80,368.67 L163.20,367.08 L163.60,367.59 L164.00,365.04 L164.40,364.28 L164.80,363.16 L165.20,362.52 L165.60,361.29 L166.00,360.19 L166.40,358.57 L166.80,357.69 L167.20,356.66 L167.60,354.95 L168.00,354.18 L168.40,351.88 L168.80,351.49 L169.20,350.20 L169.60,348.85 L170.00,347.32 L170.40,346.15 L170.80,345.25 L171.20,345.34 L171.60,343.70 L172.00,342.90 L172.40,342.94 L172.80,341.94 L173.20,342.11 L173.60,342.57 L174.00,342.54 L174.40,341.86 L174.80,343.54 L175.20,343.49 L175.60,345.01 L176.00,347.28 L176.40,350.42 L176.80,352.90 L177.20,354.18 L177.60,357.75 L178.00,360.18 L178.40,362.20 L178.80,364.37 L179.20,366.95 L179.60,368.92 L180.00,370.47 L180.40,372.07 L180.80,373.37 L181.20,374.75 L181.60,375.94 L182.00,376.60 L182.40,377.13 L182.80,377.52 L183.20,377.98 L183.60,378.24 L184.00,378.48 L184.40,378.65 L184.80,378.78 L185.20,378.88 L185.60,378.95 L186.00,379.00 L186.40,379.03 L186.80,379.05 L187.20,379.07 L187.60,379.08 L188.00,379.09 L188.40,379.09 L188.80,379.10 L189.20,379.10 L189.60,379.10 L190.00,379.10 L190.40,379.10 L190.80,379.10 L191.20,379.10 L191.60,379.10 L192.00,379.10 L192.40,379.10 L192.80,379.10 L193.20,379.10 L193.60,379.10 L194.00,379.10 L194.40,379.10 L194.80,379.10 L195.00,379.10 Z" fill="#c8c8ce" fill-opacity="0.5"/>
<path d="M153.20,378.65 L153.60,378.57 L154.00,378.48 L154.40,378.37 L154.80,378.24 L155.20,378.19 L155.60,377.90 L156.00,377.73 L156.40,377.66 L156.80,377.46 L157.20,376.84 L157.60,376.77 L158.00,376.49 L158.40,375.91 L158.80,375.29 L159.20,375.29 L159.60,374.24 L160.00,374.28 L160.40,372.98 L160.80,372.59 L161.20,372.67 L161.60,370.74 L162.00,371.22 L162.40,370.38 L162.80,368.67 L163.20,367.08 L163.60,367.59 L164.00,365.04 L164.40,364.28 L164.80,363.16 L165.20,362.52 L165.60,361.29 L166.00,360.19 L166.40,358.57 L166.80,357.69 L167.20,356.66 L167.60,354.95 L168.00,354.18 L168.40,351.88 L168.80,351.49 L169.20,350.20 L169.60,348.85 L170.00,347.32 L170.40,346.15 L170.80,345.25 L171.20,345.34 L171.60,343.70 L172.00,342.90 L172.40,342.94 L172.80,341.94 L173.20,342.11 L173.60,342.57 L174.00,342.54 L174.40,341.86 L174.80,343.54 L175.20,343.49 L175.60,345.01 L176.00,347.28 L176.40,350.42 L176.80,352.90 L177.20,354.18 L177.60,357.75 L178.00,360.18 L178.40,362.20 L178.80,364.37 L179.20,366.95 L179.60,368.92 L180.00,370.47 L180.40,372.07 L180.80,373.37 L181.20,374.75 L181.60,375.94 L182.00,376.60 L182.40,377.13 L182.80,377.52 L183.20,377.98 L183.60,378.24 L184.00,378.48 L184.40,378.65" fill="none" stroke="#c4c4c8" stroke-width="0.6"/>
<line x1="125.80" y1="379.10" x2="209.00" y2="379.10" stroke="#c4c4c8" stroke-width="0.8"/>
</g>
<line x1="125.80" y1="379.10" x2="209.00" y2="379.10" stroke="#231f20" stroke-width="0.9"/>
<line x1="127.99" y1="379.10" x2="127.99" y2="380.30" stroke="#231f20" stroke-width="0.6"/>
<line x1="133.66" y1="379.10" x2="133.66" y2="380.30" stroke="#231f20" stroke-width="0.6"/>
<line x1="137.69" y1="379.10" x2="137.69" y2="380.30" stroke="#231f20" stroke-width="0.6"/>
<line x1="140.81" y1="379.10" x2="140.81" y2="380.30" stroke="#231f20" stroke-width="0.6"/>
<line x1="143.36" y1="379.10" x2="143.36" y2="380.30" stroke="#231f20" stroke-width="0.6"/>
<line x1="145.51" y1="379.10" x2="145.51" y2="380.30" stroke="#231f20" stroke-width="0.6"/>
<line x1="147.38" y1="379.10" x2="147.38" y2="380.30" stroke="#231f20" stroke-width="0.6"/>
<line x1="149.03" y1="379.10" x2="149.03" y2="380.30" stroke="#231f20" stroke-width="0.6"/>
<line x1="150.50" y1="379.10" x2="150.50" y2="381.30" stroke="#231f20" stroke-width="0.6"/>
<line x1="160.19" y1="379.10" x2="160.19" y2="380.30" stroke="#231f20" stroke-width="0.6"/>
<line x1="165.86" y1="379.10" x2="165.86" y2="380.30" stroke="#231f20" stroke-width="0.6"/>
<line x1="169.89" y1="379.10" x2="169.89" y2="380.30" stroke="#231f20" stroke-width="0.6"/>
<line x1="173.01" y1="379.10" x2="173.01" y2="380.30" stroke="#231f20" stroke-width="0.6"/>
<line x1="175.56" y1="379.10" x2="175.56" y2="380.30" stroke="#231f20" stroke-width="0.6"/>
<line x1="177.71" y1="379.10" x2="177.71" y2="380.30" stroke="#231f20" stroke-width="0.6"/>
<line x1="179.58" y1="379.10" x2="179.58" y2="380.30" stroke="#231f20" stroke-width="0.6"/>
<line x1="181.23" y1="379.10" x2="181.23" y2="380.30" stroke="#231f20" stroke-width="0.6"/>
<line x1="182.70" y1="379.10" x2="182.70" y2="381.30" stroke="#231f20" stroke-width="0.6"/>
<line x1="192.39" y1="379.10" x2="192.39" y2="380.30" stroke="#231f20" stroke-width="0.6"/>
<line x1="198.06" y1="379.10" x2="198.06" y2="380.30" stroke="#231f20" stroke-width="0.6"/>
<line x1="202.09" y1="379.10" x2="202.09" y2="380.30" stroke="#231f20" stroke-width="0.6"/>
<line x1="205.21" y1="379.10" x2="205.21" y2="380.30" stroke="#231f20" stroke-width="0.6"/>
<line x1="207.76" y1="379.10" x2="207.76" y2="380.30" stroke="#231f20" stroke-width="0.6"/>
<line x1="183.70" y1="282.20" x2="183.70" y2="380.60" stroke="#231f20" stroke-width="0.9"/>
<text x="150.7" y="392.3" font-size="7.6" text-anchor="middle" fill="#231f20" stroke="#231f20" stroke-width="0.2">10<tspan font-size="5" dy="-3.2">2</tspan></text>
<text x="182.9" y="392.3" font-size="7.6" text-anchor="middle" fill="#231f20" stroke="#231f20" stroke-width="0.2">10<tspan font-size="5" dy="-3.2">3</tspan></text>
<text x="129.7" y="293.0" font-size="7.1" text-anchor="start" font-weight="normal" font-style="normal" fill="#231f20" stroke="#231f20" stroke-width="0.12" >(pSTAT5)</text>
<rect x="125.8" y="282.2" width="83.2" height="112.4" fill="none" stroke="#c0304a" stroke-width="1.2"/>
<text x="275.1" y="276.8" font-size="9.3" text-anchor="middle" font-weight="normal" font-style="italic" fill="#231f20" stroke="#231f20" stroke-width="0.1" >ZC3HAV1::ABL2 Δ4</text>
<clipPath id="c232282"><rect x="232.8" y="282.2" width="83.6" height="112.4"/></clipPath>
<g clip-path="url(#c232282)">
<path d="M250.00,330.70 L250.00,330.70 L250.40,330.70 L250.80,330.70 L251.20,330.70 L251.60,330.70 L252.00,330.70 L252.40,330.69 L252.80,330.69 L253.20,330.69 L253.60,330.69 L254.00,330.69 L254.40,330.69 L254.80,330.68 L255.20,330.68 L255.60,330.68 L256.00,330.67 L256.40,330.67 L256.80,330.67 L257.20,330.66 L257.60,330.65 L258.00,330.64 L258.40,330.63 L258.80,330.62 L259.20,330.61 L259.60,330.60 L260.00,330.58 L260.40,330.56 L260.80,330.54 L261.20,330.51 L261.60,330.49 L262.00,330.45 L262.40,330.42 L262.80,330.38 L263.20,330.33 L263.60,330.28 L264.00,330.22 L264.40,330.16 L264.80,330.08 L265.20,330.00 L265.60,329.91 L266.00,329.81 L266.40,329.70 L266.80,329.63 L267.20,329.52 L267.60,329.42 L268.00,329.00 L268.40,329.03 L268.80,328.84 L269.20,328.31 L269.60,328.34 L270.00,328.03 L270.40,328.00 L270.80,327.62 L271.20,327.23 L271.60,327.14 L272.00,326.65 L272.40,326.03 L272.80,325.18 L273.20,324.88 L273.60,325.02 L274.00,323.86 L274.40,322.68 L274.80,322.54 L275.20,322.07 L275.60,322.35 L276.00,321.64 L276.40,320.73 L276.80,319.43 L277.20,318.82 L277.60,316.91 L278.00,317.48 L278.40,315.86 L278.80,315.47 L279.20,314.61 L279.60,312.22 L280.00,311.57 L280.40,311.95 L280.80,310.89 L281.20,309.27 L281.60,308.43 L282.00,306.16 L282.40,306.58 L282.80,304.88 L283.20,303.46 L283.60,303.18 L284.00,301.46 L284.40,300.41 L284.80,299.68 L285.20,297.80 L285.60,297.52 L286.00,295.90 L286.40,296.00 L286.80,294.80 L287.20,293.54 L287.60,293.88 L288.00,293.06 L288.40,292.16 L288.80,290.62 L289.20,291.44 L289.60,290.35 L290.00,290.50 L290.40,289.57 L290.80,288.95 L291.20,289.74 L291.60,289.80 L292.00,289.52 L292.40,288.62 L292.80,289.58 L293.20,290.50 L293.60,291.18 L294.00,292.42 L294.40,293.38 L294.80,294.00 L295.20,295.41 L295.60,297.17 L296.00,297.83 L296.40,298.57 L296.80,301.24 L297.20,302.69 L297.60,304.04 L298.00,305.39 L298.40,307.25 L298.80,309.16 L299.20,310.51 L299.60,313.15 L300.00,313.08 L300.40,315.90 L300.80,317.21 L301.20,317.78 L301.60,319.22 L302.00,320.28 L302.40,321.69 L302.80,322.22 L303.20,323.19 L303.60,324.87 L304.00,324.93 L304.40,325.51 L304.80,326.13 L305.20,327.13 L305.60,327.24 L306.00,327.88 L306.40,328.52 L306.80,328.74 L307.20,328.83 L307.60,329.38 L308.00,329.43 L308.40,329.63 L308.80,329.84 L309.20,329.99 L309.60,330.11 L310.00,330.21 L310.40,330.30 L310.80,330.37 L311.20,330.44 L311.60,330.49 L312.00,330.53 L312.40,330.56 L312.80,330.59 L313.20,330.61 L313.60,330.63 L314.00,330.64 L314.40,330.66 L314.80,330.67 L315.20,330.67 L315.60,330.68 L316.00,330.68 L316.40,330.69 L316.80,330.69 L317.00,330.70 Z" fill="#8f91a1" fill-opacity="0.85"/>
<path d="M263.60,330.28 L264.00,330.22 L264.40,330.16 L264.80,330.08 L265.20,330.00 L265.60,329.91 L266.00,329.81 L266.40,329.70 L266.80,329.63 L267.20,329.52 L267.60,329.42 L268.00,329.00 L268.40,329.03 L268.80,328.84 L269.20,328.31 L269.60,328.34 L270.00,328.03 L270.40,328.00 L270.80,327.62 L271.20,327.23 L271.60,327.14 L272.00,326.65 L272.40,326.03 L272.80,325.18 L273.20,324.88 L273.60,325.02 L274.00,323.86 L274.40,322.68 L274.80,322.54 L275.20,322.07 L275.60,322.35 L276.00,321.64 L276.40,320.73 L276.80,319.43 L277.20,318.82 L277.60,316.91 L278.00,317.48 L278.40,315.86 L278.80,315.47 L279.20,314.61 L279.60,312.22 L280.00,311.57 L280.40,311.95 L280.80,310.89 L281.20,309.27 L281.60,308.43 L282.00,306.16 L282.40,306.58 L282.80,304.88 L283.20,303.46 L283.60,303.18 L284.00,301.46 L284.40,300.41 L284.80,299.68 L285.20,297.80 L285.60,297.52 L286.00,295.90 L286.40,296.00 L286.80,294.80 L287.20,293.54 L287.60,293.88 L288.00,293.06 L288.40,292.16 L288.80,290.62 L289.20,291.44 L289.60,290.35 L290.00,290.50 L290.40,289.57 L290.80,288.95 L291.20,289.74 L291.60,289.80 L292.00,289.52 L292.40,288.62 L292.80,289.58 L293.20,290.50 L293.60,291.18 L294.00,292.42 L294.40,293.38 L294.80,294.00 L295.20,295.41 L295.60,297.17 L296.00,297.83 L296.40,298.57 L296.80,301.24 L297.20,302.69 L297.60,304.04 L298.00,305.39 L298.40,307.25 L298.80,309.16 L299.20,310.51 L299.60,313.15 L300.00,313.08 L300.40,315.90 L300.80,317.21 L301.20,317.78 L301.60,319.22 L302.00,320.28 L302.40,321.69 L302.80,322.22 L303.20,323.19 L303.60,324.87 L304.00,324.93 L304.40,325.51 L304.80,326.13 L305.20,327.13 L305.60,327.24 L306.00,327.88 L306.40,328.52 L306.80,328.74 L307.20,328.83 L307.60,329.38 L308.00,329.43 L308.40,329.63 L308.80,329.84 L309.20,329.99 L309.60,330.11 L310.00,330.21" fill="none" stroke="#5a5f6e" stroke-width="0.6"/>
<line x1="232.80" y1="330.70" x2="316.40" y2="330.70" stroke="#5a5f6e" stroke-width="0.8"/>
<path d="M255.00,355.20 L255.00,355.20 L255.40,355.20 L255.80,355.20 L256.20,355.20 L256.60,355.20 L257.00,355.20 L257.40,355.20 L257.80,355.20 L258.20,355.19 L258.60,355.19 L259.00,355.19 L259.40,355.19 L259.80,355.18 L260.20,355.18 L260.60,355.18 L261.00,355.17 L261.40,355.16 L261.80,355.16 L262.20,355.14 L262.60,355.13 L263.00,355.12 L263.40,355.10 L263.80,355.08 L264.20,355.05 L264.60,355.02 L265.00,354.98 L265.40,354.94 L265.80,354.89 L266.20,354.83 L266.60,354.76 L267.00,354.67 L267.40,354.58 L267.80,354.47 L268.20,354.34 L268.60,354.16 L269.00,354.00 L269.40,353.83 L269.80,353.54 L270.20,353.38 L270.60,353.21 L271.00,352.66 L271.40,352.56 L271.80,351.96 L272.20,351.51 L272.60,351.47 L273.00,350.51 L273.40,349.66 L273.80,349.26 L274.20,349.10 L274.60,348.34 L275.00,347.31 L275.40,346.83 L275.80,345.09 L276.20,344.87 L276.60,343.52 L277.00,342.98 L277.40,341.21 L277.80,340.41 L278.20,338.27 L278.60,337.69 L279.00,336.05 L279.40,335.17 L279.80,334.34 L280.20,331.98 L280.60,331.55 L281.00,330.15 L281.40,327.80 L281.80,327.21 L282.20,325.69 L282.60,324.45 L283.00,322.93 L283.40,321.75 L283.80,321.18 L284.20,320.30 L284.60,318.24 L285.00,318.39 L285.40,317.33 L285.80,316.06 L286.20,316.54 L286.60,316.18 L287.00,315.53 L287.40,315.35 L287.80,314.66 L288.20,314.70 L288.60,316.35 L289.00,316.19 L289.40,316.17 L289.80,317.32 L290.20,319.15 L290.60,319.80 L291.00,320.94 L291.40,321.86 L291.80,323.60 L292.20,324.67 L292.60,325.96 L293.00,328.33 L293.40,328.88 L293.80,330.88 L294.20,333.01 L294.60,333.77 L295.00,336.08 L295.40,336.80 L295.80,338.39 L296.20,340.46 L296.60,341.49 L297.00,342.57 L297.40,343.56 L297.80,345.11 L298.20,345.79 L298.60,347.42 L299.00,347.53 L299.40,348.38 L299.80,349.32 L300.20,350.49 L300.60,351.07 L301.00,351.64 L301.40,351.76 L301.80,352.13 L302.20,352.62 L302.60,353.15 L303.00,353.46 L303.40,353.75 L303.80,353.79 L304.20,354.08 L304.60,354.27 L305.00,354.42 L305.40,354.55 L305.80,354.66 L306.20,354.76 L306.60,354.83 L307.00,354.90 L307.40,354.96 L307.80,355.00 L308.20,355.04 L308.60,355.07 L309.00,355.10 L309.40,355.12 L309.80,355.13 L310.20,355.15 L310.60,355.16 L311.00,355.17 L311.40,355.17 L311.80,355.18 L312.20,355.18 L312.60,355.19 L313.00,355.19 L313.40,355.19 L313.80,355.19 L314.20,355.20 L314.60,355.20 L315.00,355.20 L315.40,355.20 L315.80,355.20 L316.20,355.20 L316.60,355.20 L317.00,355.20 L317.00,355.20 Z" fill="#d2463c" fill-opacity="0.62"/>
<path d="M266.60,354.76 L267.00,354.67 L267.40,354.58 L267.80,354.47 L268.20,354.34 L268.60,354.16 L269.00,354.00 L269.40,353.83 L269.80,353.54 L270.20,353.38 L270.60,353.21 L271.00,352.66 L271.40,352.56 L271.80,351.96 L272.20,351.51 L272.60,351.47 L273.00,350.51 L273.40,349.66 L273.80,349.26 L274.20,349.10 L274.60,348.34 L275.00,347.31 L275.40,346.83 L275.80,345.09 L276.20,344.87 L276.60,343.52 L277.00,342.98 L277.40,341.21 L277.80,340.41 L278.20,338.27 L278.60,337.69 L279.00,336.05 L279.40,335.17 L279.80,334.34 L280.20,331.98 L280.60,331.55 L281.00,330.15 L281.40,327.80 L281.80,327.21 L282.20,325.69 L282.60,324.45 L283.00,322.93 L283.40,321.75 L283.80,321.18 L284.20,320.30 L284.60,318.24 L285.00,318.39 L285.40,317.33 L285.80,316.06 L286.20,316.54 L286.60,316.18 L287.00,315.53 L287.40,315.35 L287.80,314.66 L288.20,314.70 L288.60,316.35 L289.00,316.19 L289.40,316.17 L289.80,317.32 L290.20,319.15 L290.60,319.80 L291.00,320.94 L291.40,321.86 L291.80,323.60 L292.20,324.67 L292.60,325.96 L293.00,328.33 L293.40,328.88 L293.80,330.88 L294.20,333.01 L294.60,333.77 L295.00,336.08 L295.40,336.80 L295.80,338.39 L296.20,340.46 L296.60,341.49 L297.00,342.57 L297.40,343.56 L297.80,345.11 L298.20,345.79 L298.60,347.42 L299.00,347.53 L299.40,348.38 L299.80,349.32 L300.20,350.49 L300.60,351.07 L301.00,351.64 L301.40,351.76 L301.80,352.13 L302.20,352.62 L302.60,353.15 L303.00,353.46 L303.40,353.75 L303.80,353.79 L304.20,354.08 L304.60,354.27 L305.00,354.42 L305.40,354.55 L305.80,354.66 L306.20,354.76" fill="none" stroke="#c0304a" stroke-width="0.6"/>
<line x1="232.80" y1="355.20" x2="316.40" y2="355.20" stroke="#c0304a" stroke-width="0.8"/>
<path d="M250.00,378.70 L250.00,378.70 L250.40,378.70 L250.80,378.70 L251.20,378.70 L251.60,378.70 L252.00,378.69 L252.40,378.69 L252.80,378.69 L253.20,378.68 L253.60,378.68 L254.00,378.67 L254.40,378.66 L254.80,378.64 L255.20,378.62 L255.60,378.59 L256.00,378.55 L256.40,378.50 L256.80,378.43 L257.20,378.34 L257.60,378.23 L258.00,378.09 L258.40,377.91 L258.80,377.72 L259.20,377.33 L259.60,376.97 L260.00,376.51 L260.40,376.20 L260.80,375.64 L261.20,374.64 L261.60,373.74 L262.00,372.73 L262.40,372.39 L262.80,371.01 L263.20,369.05 L263.60,368.55 L264.00,366.72 L264.40,364.47 L264.80,363.04 L265.20,361.01 L265.60,359.05 L266.00,356.84 L266.40,355.01 L266.80,352.15 L267.20,350.33 L267.60,347.19 L268.00,345.26 L268.40,343.04 L268.80,342.07 L269.20,340.51 L269.60,338.20 L270.00,337.54 L270.40,336.46 L270.80,336.69 L271.20,335.78 L271.60,337.13 L272.00,336.68 L272.40,338.33 L272.80,339.57 L273.20,340.81 L273.60,343.15 L274.00,345.75 L274.40,347.52 L274.80,350.86 L275.20,352.72 L275.60,354.29 L276.00,357.97 L276.40,359.31 L276.80,361.78 L277.20,364.57 L277.60,366.67 L278.00,368.43 L278.40,369.14 L278.80,371.44 L279.20,372.56 L279.60,373.74 L280.00,374.32 L280.40,374.93 L280.80,376.02 L281.20,376.46 L281.60,376.88 L282.00,377.10 L282.40,377.57 L282.80,377.83 L283.20,378.03 L283.60,378.20 L284.00,378.32 L284.40,378.42 L284.80,378.49 L285.20,378.55 L285.60,378.59 L286.00,378.62 L286.40,378.64 L286.80,378.66 L287.20,378.67 L287.60,378.68 L288.00,378.69 L288.40,378.69 L288.80,378.69 L289.20,378.70 L289.60,378.70 L290.00,378.70 L290.40,378.70 L290.80,378.70 L291.20,378.70 L291.60,378.70 L292.00,378.70 L292.40,378.70 L292.80,378.70 L293.20,378.70 L293.60,378.70 L294.00,378.70 L294.40,378.70 L294.80,378.70 L295.00,378.70 Z" fill="#c8c8ce" fill-opacity="0.5"/>
<path d="M257.60,378.23 L258.00,378.09 L258.40,377.91 L258.80,377.72 L259.20,377.33 L259.60,376.97 L260.00,376.51 L260.40,376.20 L260.80,375.64 L261.20,374.64 L261.60,373.74 L262.00,372.73 L262.40,372.39 L262.80,371.01 L263.20,369.05 L263.60,368.55 L264.00,366.72 L264.40,364.47 L264.80,363.04 L265.20,361.01 L265.60,359.05 L266.00,356.84 L266.40,355.01 L266.80,352.15 L267.20,350.33 L267.60,347.19 L268.00,345.26 L268.40,343.04 L268.80,342.07 L269.20,340.51 L269.60,338.20 L270.00,337.54 L270.40,336.46 L270.80,336.69 L271.20,335.78 L271.60,337.13 L272.00,336.68 L272.40,338.33 L272.80,339.57 L273.20,340.81 L273.60,343.15 L274.00,345.75 L274.40,347.52 L274.80,350.86 L275.20,352.72 L275.60,354.29 L276.00,357.97 L276.40,359.31 L276.80,361.78 L277.20,364.57 L277.60,366.67 L278.00,368.43 L278.40,369.14 L278.80,371.44 L279.20,372.56 L279.60,373.74 L280.00,374.32 L280.40,374.93 L280.80,376.02 L281.20,376.46 L281.60,376.88 L282.00,377.10 L282.40,377.57 L282.80,377.83 L283.20,378.03 L283.60,378.20" fill="none" stroke="#c4c4c8" stroke-width="0.6"/>
<line x1="232.80" y1="378.70" x2="316.40" y2="378.70" stroke="#c4c4c8" stroke-width="0.8"/>
</g>
<line x1="232.80" y1="378.70" x2="316.40" y2="378.70" stroke="#231f20" stroke-width="0.9"/>
<line x1="236.48" y1="378.70" x2="236.48" y2="379.90" stroke="#231f20" stroke-width="0.6"/>
<line x1="242.03" y1="378.70" x2="242.03" y2="379.90" stroke="#231f20" stroke-width="0.6"/>
<line x1="245.96" y1="378.70" x2="245.96" y2="379.90" stroke="#231f20" stroke-width="0.6"/>
<line x1="249.02" y1="378.70" x2="249.02" y2="379.90" stroke="#231f20" stroke-width="0.6"/>
<line x1="251.51" y1="378.70" x2="251.51" y2="379.90" stroke="#231f20" stroke-width="0.6"/>
<line x1="253.62" y1="378.70" x2="253.62" y2="379.90" stroke="#231f20" stroke-width="0.6"/>
<line x1="255.45" y1="378.70" x2="255.45" y2="379.90" stroke="#231f20" stroke-width="0.6"/>
<line x1="257.06" y1="378.70" x2="257.06" y2="379.90" stroke="#231f20" stroke-width="0.6"/>
<line x1="258.50" y1="378.70" x2="258.50" y2="380.90" stroke="#231f20" stroke-width="0.6"/>
<line x1="267.98" y1="378.70" x2="267.98" y2="379.90" stroke="#231f20" stroke-width="0.6"/>
<line x1="273.53" y1="378.70" x2="273.53" y2="379.90" stroke="#231f20" stroke-width="0.6"/>
<line x1="277.46" y1="378.70" x2="277.46" y2="379.90" stroke="#231f20" stroke-width="0.6"/>
<line x1="280.52" y1="378.70" x2="280.52" y2="379.90" stroke="#231f20" stroke-width="0.6"/>
<line x1="283.01" y1="378.70" x2="283.01" y2="379.90" stroke="#231f20" stroke-width="0.6"/>
<line x1="285.12" y1="378.70" x2="285.12" y2="379.90" stroke="#231f20" stroke-width="0.6"/>
<line x1="286.95" y1="378.70" x2="286.95" y2="379.90" stroke="#231f20" stroke-width="0.6"/>
<line x1="288.56" y1="378.70" x2="288.56" y2="379.90" stroke="#231f20" stroke-width="0.6"/>
<line x1="290.00" y1="378.70" x2="290.00" y2="380.90" stroke="#231f20" stroke-width="0.6"/>
<line x1="299.48" y1="378.70" x2="299.48" y2="379.90" stroke="#231f20" stroke-width="0.6"/>
<line x1="305.03" y1="378.70" x2="305.03" y2="379.90" stroke="#231f20" stroke-width="0.6"/>
<line x1="308.96" y1="378.70" x2="308.96" y2="379.90" stroke="#231f20" stroke-width="0.6"/>
<line x1="312.02" y1="378.70" x2="312.02" y2="379.90" stroke="#231f20" stroke-width="0.6"/>
<line x1="314.51" y1="378.70" x2="314.51" y2="379.90" stroke="#231f20" stroke-width="0.6"/>
<line x1="293.90" y1="282.20" x2="293.90" y2="380.20" stroke="#231f20" stroke-width="0.9"/>
<text x="258.7" y="391.9" font-size="7.6" text-anchor="middle" fill="#231f20" stroke="#231f20" stroke-width="0.2">10<tspan font-size="5" dy="-3.2">2</tspan></text>
<text x="290.2" y="391.9" font-size="7.6" text-anchor="middle" fill="#231f20" stroke="#231f20" stroke-width="0.2">10<tspan font-size="5" dy="-3.2">3</tspan></text>
<text x="236.70000000000002" y="293.0" font-size="7.1" text-anchor="start" font-weight="normal" font-style="normal" fill="#231f20" stroke="#231f20" stroke-width="0.12" >(pSTAT5)</text>
<rect x="232.8" y="282.2" width="83.6" height="112.4" fill="none" stroke="#c0304a" stroke-width="1.2"/>
<rect x="96.8" y="405.3" width="5.2" height="5.2" fill="#7b8094" stroke="#555a66" stroke-width="0.7"/>
<text x="105" y="410.40000000000003" font-size="6.9" text-anchor="start" font-weight="normal" font-style="normal" fill="#231f20" stroke="#231f20" stroke-width="0.2" >untreated</text>
<rect x="145" y="405.3" width="5.2" height="5.2" fill="#e8908a" stroke="#c0304a" stroke-width="0.7"/>
<text x="153" y="410.40000000000003" font-size="6.9" text-anchor="start" font-weight="normal" font-style="normal" fill="#231f20" stroke="#231f20" stroke-width="0.2" >5μM asciminib</text>
<rect x="207" y="405.3" width="5.2" height="5.2" fill="#dcdcdc" stroke="#c8c8c8" stroke-width="0.7"/>
<text x="216.2" y="410.40000000000003" font-size="6.9" text-anchor="start" font-weight="normal" font-style="normal" fill="#231f20" stroke="#231f20" stroke-width="0.2" >Isotype</text>
<text x="7.2" y="436" font-size="11" text-anchor="start" font-weight="bold" font-style="normal" fill="#000" stroke="#000" stroke-width="0.2" >F</text>
<text x="60.0" y="446.3" font-size="9.3" text-anchor="middle" font-weight="normal" font-style="italic" fill="#231f20" stroke="#231f20" stroke-width="0.1" >ZC3HAV1::ABL2</text>
<clipPath id="c17451"><rect x="17.4" y="451.7" width="84.2" height="113.4"/></clipPath>
<g clip-path="url(#c17451)">
<path d="M36.00,500.40 L36.00,500.38 L36.40,500.37 L36.80,500.36 L37.20,500.36 L37.60,500.35 L38.00,500.33 L38.40,500.32 L38.80,500.30 L39.20,500.28 L39.60,500.26 L40.00,500.24 L40.40,500.21 L40.80,500.18 L41.20,500.14 L41.60,500.10 L42.00,500.06 L42.40,500.01 L42.80,499.96 L43.20,499.90 L43.60,499.84 L44.00,499.77 L44.40,499.70 L44.80,499.62 L45.20,499.53 L45.60,499.44 L46.00,499.34 L46.40,499.16 L46.80,498.99 L47.20,499.04 L47.60,498.76 L48.00,498.61 L48.40,498.44 L48.80,498.47 L49.20,498.30 L49.60,497.90 L50.00,497.42 L50.40,497.41 L50.80,496.90 L51.20,496.66 L51.60,495.78 L52.00,495.18 L52.40,495.18 L52.80,493.92 L53.20,494.45 L53.60,492.76 L54.00,491.90 L54.40,492.29 L54.80,490.61 L55.20,490.01 L55.60,488.51 L56.00,488.82 L56.40,487.40 L56.80,485.96 L57.20,485.45 L57.60,485.10 L58.00,484.60 L58.40,482.39 L58.80,482.32 L59.20,480.70 L59.60,481.31 L60.00,479.50 L60.40,478.77 L60.80,477.88 L61.20,478.60 L61.60,477.35 L62.00,477.21 L62.40,475.43 L62.80,475.39 L63.20,473.71 L63.60,473.86 L64.00,472.35 L64.40,471.24 L64.80,471.18 L65.20,469.51 L65.60,467.62 L66.00,466.99 L66.40,465.90 L66.80,464.70 L67.20,462.56 L67.60,462.30 L68.00,460.58 L68.40,459.78 L68.80,459.14 L69.20,459.45 L69.60,458.55 L70.00,458.39 L70.40,459.79 L70.80,460.33 L71.20,460.09 L71.60,461.43 L72.00,462.85 L72.40,464.32 L72.80,464.29 L73.20,466.21 L73.60,467.37 L74.00,469.11 L74.40,470.04 L74.80,471.43 L75.20,473.69 L75.60,475.68 L76.00,475.84 L76.40,477.57 L76.80,480.59 L77.20,481.28 L77.60,482.61 L78.00,484.53 L78.40,485.42 L78.80,486.40 L79.20,488.27 L79.60,489.79 L80.00,491.22 L80.40,492.18 L80.80,493.28 L81.20,494.16 L81.60,494.79 L82.00,494.83 L82.40,495.82 L82.80,496.21 L83.20,496.70 L83.60,497.28 L84.00,498.11 L84.40,498.07 L84.80,498.72 L85.20,498.77 L85.60,499.01 L86.00,499.28 L86.40,499.49 L86.80,499.65 L87.20,499.78 L87.60,499.89 L88.00,499.98 L88.40,500.06 L88.80,500.12 L89.20,500.17 L89.60,500.22 L90.00,500.25 L90.40,500.28 L90.80,500.31 L91.20,500.33 L91.60,500.34 L92.00,500.35 L92.40,500.36 L92.80,500.37 L93.20,500.38 L93.60,500.38 L94.00,500.39 L94.40,500.39 L94.80,500.39 L95.20,500.39 L95.60,500.40 L96.00,500.40 L96.40,500.40 L96.80,500.40 L97.20,500.40 L97.60,500.40 L98.00,500.40 L98.40,500.40 L98.80,500.40 L99.20,500.40 L99.60,500.40 L100.00,500.40 L100.00,500.40 Z" fill="#898c99" fill-opacity="0.85"/>
<path d="M42.80,499.96 L43.20,499.90 L43.60,499.84 L44.00,499.77 L44.40,499.70 L44.80,499.62 L45.20,499.53 L45.60,499.44 L46.00,499.34 L46.40,499.16 L46.80,498.99 L47.20,499.04 L47.60,498.76 L48.00,498.61 L48.40,498.44 L48.80,498.47 L49.20,498.30 L49.60,497.90 L50.00,497.42 L50.40,497.41 L50.80,496.90 L51.20,496.66 L51.60,495.78 L52.00,495.18 L52.40,495.18 L52.80,493.92 L53.20,494.45 L53.60,492.76 L54.00,491.90 L54.40,492.29 L54.80,490.61 L55.20,490.01 L55.60,488.51 L56.00,488.82 L56.40,487.40 L56.80,485.96 L57.20,485.45 L57.60,485.10 L58.00,484.60 L58.40,482.39 L58.80,482.32 L59.20,480.70 L59.60,481.31 L60.00,479.50 L60.40,478.77 L60.80,477.88 L61.20,478.60 L61.60,477.35 L62.00,477.21 L62.40,475.43 L62.80,475.39 L63.20,473.71 L63.60,473.86 L64.00,472.35 L64.40,471.24 L64.80,471.18 L65.20,469.51 L65.60,467.62 L66.00,466.99 L66.40,465.90 L66.80,464.70 L67.20,462.56 L67.60,462.30 L68.00,460.58 L68.40,459.78 L68.80,459.14 L69.20,459.45 L69.60,458.55 L70.00,458.39 L70.40,459.79 L70.80,460.33 L71.20,460.09 L71.60,461.43 L72.00,462.85 L72.40,464.32 L72.80,464.29 L73.20,466.21 L73.60,467.37 L74.00,469.11 L74.40,470.04 L74.80,471.43 L75.20,473.69 L75.60,475.68 L76.00,475.84 L76.40,477.57 L76.80,480.59 L77.20,481.28 L77.60,482.61 L78.00,484.53 L78.40,485.42 L78.80,486.40 L79.20,488.27 L79.60,489.79 L80.00,491.22 L80.40,492.18 L80.80,493.28 L81.20,494.16 L81.60,494.79 L82.00,494.83 L82.40,495.82 L82.80,496.21 L83.20,496.70 L83.60,497.28 L84.00,498.11 L84.40,498.07 L84.80,498.72 L85.20,498.77 L85.60,499.01 L86.00,499.28 L86.40,499.49 L86.80,499.65 L87.20,499.78 L87.60,499.89 L88.00,499.98" fill="none" stroke="#55585f" stroke-width="0.6"/>
<line x1="17.40" y1="500.40" x2="101.60" y2="500.40" stroke="#55585f" stroke-width="0.8"/>
<path d="M30.00,524.30 L30.00,524.25 L30.40,524.24 L30.80,524.22 L31.20,524.20 L31.60,524.18 L32.00,524.16 L32.40,524.13 L32.80,524.09 L33.20,524.05 L33.60,524.00 L34.00,523.94 L34.40,523.88 L34.80,523.80 L35.20,523.70 L35.60,523.60 L36.00,523.48 L36.40,523.34 L36.80,523.30 L37.20,522.92 L37.60,522.87 L38.00,522.73 L38.40,522.29 L38.80,521.99 L39.20,521.67 L39.60,521.32 L40.00,521.14 L40.40,520.74 L40.80,519.60 L41.20,519.65 L41.60,518.40 L42.00,517.46 L42.40,516.49 L42.80,515.41 L43.20,516.52 L43.60,515.63 L44.00,513.29 L44.40,512.74 L44.80,512.73 L45.20,510.29 L45.60,508.58 L46.00,507.47 L46.40,507.95 L46.80,506.43 L47.20,505.92 L47.60,501.86 L48.00,502.60 L48.40,499.81 L48.80,498.95 L49.20,497.42 L49.60,496.25 L50.00,494.08 L50.40,493.42 L50.80,493.00 L51.20,492.33 L51.60,490.19 L52.00,487.90 L52.40,489.11 L52.80,486.74 L53.20,486.12 L53.60,486.79 L54.00,486.12 L54.40,484.36 L54.80,484.77 L55.20,484.69 L55.60,484.46 L56.00,485.67 L56.40,484.35 L56.80,485.25 L57.20,486.16 L57.60,487.65 L58.00,487.44 L58.40,488.67 L58.80,490.84 L59.20,493.63 L59.60,495.06 L60.00,496.72 L60.40,498.64 L60.80,498.80 L61.20,500.85 L61.60,503.55 L62.00,503.30 L62.40,505.77 L62.80,506.94 L63.20,508.43 L63.60,510.30 L64.00,512.14 L64.40,512.17 L64.80,515.77 L65.20,515.34 L65.60,515.91 L66.00,517.90 L66.40,518.08 L66.80,520.00 L67.20,520.27 L67.60,521.04 L68.00,521.39 L68.40,521.57 L68.80,522.42 L69.20,522.61 L69.60,522.63 L70.00,523.15 L70.40,523.42 L70.80,523.47 L71.20,523.62 L71.60,523.75 L72.00,523.86 L72.40,523.94 L72.80,524.02 L73.20,524.08 L73.60,524.12 L74.00,524.16 L74.40,524.19 L74.80,524.22 L75.00,524.30 Z" fill="#4ba1d9" fill-opacity="0.5"/>
<path d="M34.40,523.88 L34.80,523.80 L35.20,523.70 L35.60,523.60 L36.00,523.48 L36.40,523.34 L36.80,523.30 L37.20,522.92 L37.60,522.87 L38.00,522.73 L38.40,522.29 L38.80,521.99 L39.20,521.67 L39.60,521.32 L40.00,521.14 L40.40,520.74 L40.80,519.60 L41.20,519.65 L41.60,518.40 L42.00,517.46 L42.40,516.49 L42.80,515.41 L43.20,516.52 L43.60,515.63 L44.00,513.29 L44.40,512.74 L44.80,512.73 L45.20,510.29 L45.60,508.58 L46.00,507.47 L46.40,507.95 L46.80,506.43 L47.20,505.92 L47.60,501.86 L48.00,502.60 L48.40,499.81 L48.80,498.95 L49.20,497.42 L49.60,496.25 L50.00,494.08 L50.40,493.42 L50.80,493.00 L51.20,492.33 L51.60,490.19 L52.00,487.90 L52.40,489.11 L52.80,486.74 L53.20,486.12 L53.60,486.79 L54.00,486.12 L54.40,484.36 L54.80,484.77 L55.20,484.69 L55.60,484.46 L56.00,485.67 L56.40,484.35 L56.80,485.25 L57.20,486.16 L57.60,487.65 L58.00,487.44 L58.40,488.67 L58.80,490.84 L59.20,493.63 L59.60,495.06 L60.00,496.72 L60.40,498.64 L60.80,498.80 L61.20,500.85 L61.60,503.55 L62.00,503.30 L62.40,505.77 L62.80,506.94 L63.20,508.43 L63.60,510.30 L64.00,512.14 L64.40,512.17 L64.80,515.77 L65.20,515.34 L65.60,515.91 L66.00,517.90 L66.40,518.08 L66.80,520.00 L67.20,520.27 L67.60,521.04 L68.00,521.39 L68.40,521.57 L68.80,522.42 L69.20,522.61 L69.60,522.63 L70.00,523.15 L70.40,523.42 L70.80,523.47 L71.20,523.62 L71.60,523.75 L72.00,523.86" fill="none" stroke="#3a9ad8" stroke-width="0.6"/>
<line x1="17.40" y1="524.30" x2="101.60" y2="524.30" stroke="#3a9ad8" stroke-width="0.8"/>
<path d="M30.00,547.90 L30.00,547.70 L30.40,547.67 L30.80,547.62 L31.20,547.57 L31.60,547.51 L32.00,547.45 L32.40,547.37 L32.80,547.28 L33.20,547.18 L33.60,547.06 L34.00,546.93 L34.40,546.76 L34.80,546.57 L35.20,546.43 L35.60,546.23 L36.00,546.03 L36.40,545.59 L36.80,545.55 L37.20,545.31 L37.60,544.95 L38.00,544.60 L38.40,544.18 L38.80,543.80 L39.20,543.48 L39.60,542.85 L40.00,542.35 L40.40,541.58 L40.80,541.37 L41.20,540.93 L41.60,540.16 L42.00,539.09 L42.40,538.58 L42.80,537.46 L43.20,536.64 L43.60,536.36 L44.00,535.99 L44.40,534.47 L44.80,533.68 L45.20,533.35 L45.60,532.29 L46.00,531.98 L46.40,530.53 L46.80,529.94 L47.20,529.33 L47.60,528.52 L48.00,528.80 L48.40,527.90 L48.80,527.20 L49.20,526.69 L49.60,526.82 L50.00,526.83 L50.40,526.02 L50.80,526.48 L51.20,525.67 L51.60,526.49 L52.00,526.02 L52.40,526.13 L52.80,526.79 L53.20,526.66 L53.60,527.02 L54.00,527.62 L54.40,527.51 L54.80,528.12 L55.20,528.72 L55.60,530.17 L56.00,531.15 L56.40,531.49 L56.80,532.58 L57.20,532.67 L57.60,534.02 L58.00,535.00 L58.40,535.63 L58.80,536.31 L59.20,536.71 L59.60,537.82 L60.00,538.78 L60.40,539.07 L60.80,540.53 L61.20,540.99 L61.60,541.14 L62.00,541.71 L62.40,542.83 L62.80,543.36 L63.20,543.54 L63.60,543.92 L64.00,544.69 L64.40,544.86 L64.80,545.28 L65.20,545.66 L65.60,545.91 L66.00,546.13 L66.40,546.32 L66.80,546.60 L67.20,546.69 L67.60,546.82 L68.00,547.02 L68.40,547.15 L68.80,547.26 L69.20,547.36 L69.60,547.44 L70.00,547.52 L70.40,547.58 L70.80,547.63 L71.20,547.68 L71.60,547.72 L72.00,547.75 L72.00,547.90 Z" fill="#c8c8ce" fill-opacity="0.5"/>
<path d="M32.00,547.45 L32.40,547.37 L32.80,547.28 L33.20,547.18 L33.60,547.06 L34.00,546.93 L34.40,546.76 L34.80,546.57 L35.20,546.43 L35.60,546.23 L36.00,546.03 L36.40,545.59 L36.80,545.55 L37.20,545.31 L37.60,544.95 L38.00,544.60 L38.40,544.18 L38.80,543.80 L39.20,543.48 L39.60,542.85 L40.00,542.35 L40.40,541.58 L40.80,541.37 L41.20,540.93 L41.60,540.16 L42.00,539.09 L42.40,538.58 L42.80,537.46 L43.20,536.64 L43.60,536.36 L44.00,535.99 L44.40,534.47 L44.80,533.68 L45.20,533.35 L45.60,532.29 L46.00,531.98 L46.40,530.53 L46.80,529.94 L47.20,529.33 L47.60,528.52 L48.00,528.80 L48.40,527.90 L48.80,527.20 L49.20,526.69 L49.60,526.82 L50.00,526.83 L50.40,526.02 L50.80,526.48 L51.20,525.67 L51.60,526.49 L52.00,526.02 L52.40,526.13 L52.80,526.79 L53.20,526.66 L53.60,527.02 L54.00,527.62 L54.40,527.51 L54.80,528.12 L55.20,528.72 L55.60,530.17 L56.00,531.15 L56.40,531.49 L56.80,532.58 L57.20,532.67 L57.60,534.02 L58.00,535.00 L58.40,535.63 L58.80,536.31 L59.20,536.71 L59.60,537.82 L60.00,538.78 L60.40,539.07 L60.80,540.53 L61.20,540.99 L61.60,541.14 L62.00,541.71 L62.40,542.83 L62.80,543.36 L63.20,543.54 L63.60,543.92 L64.00,544.69 L64.40,544.86 L64.80,545.28 L65.20,545.66 L65.60,545.91 L66.00,546.13 L66.40,546.32 L66.80,546.60 L67.20,546.69 L67.60,546.82 L68.00,547.02 L68.40,547.15 L68.80,547.26 L69.20,547.36 L69.60,547.44" fill="none" stroke="#c4c4c8" stroke-width="0.6"/>
<line x1="17.40" y1="547.90" x2="101.60" y2="547.90" stroke="#c4c4c8" stroke-width="0.8"/>
</g>
<line x1="17.40" y1="547.90" x2="101.60" y2="547.90" stroke="#231f20" stroke-width="0.9"/>
<line x1="21.93" y1="547.90" x2="21.93" y2="549.10" stroke="#231f20" stroke-width="0.6"/>
<line x1="27.39" y1="547.90" x2="27.39" y2="549.10" stroke="#231f20" stroke-width="0.6"/>
<line x1="31.26" y1="547.90" x2="31.26" y2="549.10" stroke="#231f20" stroke-width="0.6"/>
<line x1="34.27" y1="547.90" x2="34.27" y2="549.10" stroke="#231f20" stroke-width="0.6"/>
<line x1="36.72" y1="547.90" x2="36.72" y2="549.10" stroke="#231f20" stroke-width="0.6"/>
<line x1="38.80" y1="547.90" x2="38.80" y2="549.10" stroke="#231f20" stroke-width="0.6"/>
<line x1="40.60" y1="547.90" x2="40.60" y2="549.10" stroke="#231f20" stroke-width="0.6"/>
<line x1="42.18" y1="547.90" x2="42.18" y2="549.10" stroke="#231f20" stroke-width="0.6"/>
<line x1="43.60" y1="547.90" x2="43.60" y2="550.10" stroke="#231f20" stroke-width="0.6"/>
<line x1="52.93" y1="547.90" x2="52.93" y2="549.10" stroke="#231f20" stroke-width="0.6"/>
<line x1="58.39" y1="547.90" x2="58.39" y2="549.10" stroke="#231f20" stroke-width="0.6"/>
<line x1="62.26" y1="547.90" x2="62.26" y2="549.10" stroke="#231f20" stroke-width="0.6"/>
<line x1="65.27" y1="547.90" x2="65.27" y2="549.10" stroke="#231f20" stroke-width="0.6"/>
<line x1="67.72" y1="547.90" x2="67.72" y2="549.10" stroke="#231f20" stroke-width="0.6"/>
<line x1="69.80" y1="547.90" x2="69.80" y2="549.10" stroke="#231f20" stroke-width="0.6"/>
<line x1="71.60" y1="547.90" x2="71.60" y2="549.10" stroke="#231f20" stroke-width="0.6"/>
<line x1="73.18" y1="547.90" x2="73.18" y2="549.10" stroke="#231f20" stroke-width="0.6"/>
<line x1="74.60" y1="547.90" x2="74.60" y2="550.10" stroke="#231f20" stroke-width="0.6"/>
<line x1="83.93" y1="547.90" x2="83.93" y2="549.10" stroke="#231f20" stroke-width="0.6"/>
<line x1="89.39" y1="547.90" x2="89.39" y2="549.10" stroke="#231f20" stroke-width="0.6"/>
<line x1="93.26" y1="547.90" x2="93.26" y2="549.10" stroke="#231f20" stroke-width="0.6"/>
<line x1="96.27" y1="547.90" x2="96.27" y2="549.10" stroke="#231f20" stroke-width="0.6"/>
<line x1="98.72" y1="547.90" x2="98.72" y2="549.10" stroke="#231f20" stroke-width="0.6"/>
<line x1="69.90" y1="451.70" x2="69.90" y2="549.40" stroke="#231f20" stroke-width="0.9"/>
<text x="43.8" y="561.1" font-size="7.6" text-anchor="middle" fill="#231f20" stroke="#231f20" stroke-width="0.2">10<tspan font-size="5" dy="-3.2">2</tspan></text>
<text x="74.8" y="561.1" font-size="7.6" text-anchor="middle" fill="#231f20" stroke="#231f20" stroke-width="0.2">10<tspan font-size="5" dy="-3.2">3</tspan></text>
<text x="21.299999999999997" y="462.5" font-size="7.1" text-anchor="start" font-weight="normal" font-style="normal" fill="#231f20" stroke="#231f20" stroke-width="0.12" >(pSTAT5)</text>
<rect x="17.4" y="451.7" width="84.2" height="113.4" fill="none" stroke="#4fb3e3" stroke-width="1.2"/>
<text x="166.5" y="446.20000000000005" font-size="9.3" text-anchor="middle" font-weight="normal" font-style="italic" fill="#231f20" stroke="#231f20" stroke-width="0.1" >ZC3HAV1::ABL2 Δ3</text>
<clipPath id="c124451"><rect x="124.2" y="451.6" width="83.6" height="113"/></clipPath>
<g clip-path="url(#c124451)">
<path d="M140.00,500.60 L140.00,500.60 L140.40,500.60 L140.80,500.60 L141.20,500.60 L141.60,500.60 L142.00,500.60 L142.40,500.60 L142.80,500.60 L143.20,500.60 L143.60,500.60 L144.00,500.60 L144.40,500.60 L144.80,500.59 L145.20,500.59 L145.60,500.59 L146.00,500.59 L146.40,500.58 L146.80,500.58 L147.20,500.57 L147.60,500.57 L148.00,500.56 L148.40,500.55 L148.80,500.53 L149.20,500.52 L149.60,500.50 L150.00,500.47 L150.40,500.44 L150.80,500.41 L151.20,500.37 L151.60,500.32 L152.00,500.27 L152.40,500.20 L152.80,500.13 L153.20,500.04 L153.60,499.94 L154.00,499.83 L154.40,499.71 L154.80,499.46 L155.20,499.41 L155.60,499.36 L156.00,498.89 L156.40,498.91 L156.80,498.52 L157.20,498.68 L157.60,498.38 L158.00,497.60 L158.40,497.40 L158.80,497.72 L159.20,497.04 L159.60,496.76 L160.00,496.63 L160.40,496.44 L160.80,495.83 L161.20,495.69 L161.60,495.24 L162.00,493.79 L162.40,494.14 L162.80,493.79 L163.20,493.12 L163.60,493.18 L164.00,491.03 L164.40,491.20 L164.80,490.27 L165.20,488.94 L165.60,489.98 L166.00,488.31 L166.40,487.67 L166.80,486.24 L167.20,485.65 L167.60,485.01 L168.00,484.62 L168.40,482.75 L168.80,481.12 L169.20,479.64 L169.60,479.42 L170.00,478.06 L170.40,476.21 L170.80,475.61 L171.20,474.37 L171.60,472.37 L172.00,470.74 L172.40,469.64 L172.80,468.00 L173.20,468.23 L173.60,466.26 L174.00,466.00 L174.40,463.11 L174.80,463.45 L175.20,461.88 L175.60,460.64 L176.00,460.28 L176.40,459.57 L176.80,458.98 L177.20,458.30 L177.60,457.83 L178.00,457.44 L178.40,457.86 L178.80,458.03 L179.20,458.67 L179.60,459.20 L180.00,458.99 L180.40,458.19 L180.80,459.74 L181.20,461.06 L181.60,461.20 L182.00,461.55 L182.40,462.31 L182.80,464.26 L183.20,464.88 L183.60,467.14 L184.00,466.78 L184.40,468.92 L184.80,470.76 L185.20,471.89 L185.60,472.01 L186.00,473.20 L186.40,475.93 L186.80,475.74 L187.20,478.56 L187.60,480.18 L188.00,481.55 L188.40,482.56 L188.80,482.68 L189.20,484.17 L189.60,484.64 L190.00,487.16 L190.40,488.30 L190.80,487.95 L191.20,489.66 L191.60,490.59 L192.00,490.88 L192.40,493.21 L192.80,493.83 L193.20,494.40 L193.60,494.57 L194.00,495.53 L194.40,495.49 L194.80,496.14 L195.20,496.67 L195.60,497.19 L196.00,497.42 L196.40,497.54 L196.80,497.77 L197.20,498.09 L197.60,498.87 L198.00,498.81 L198.40,498.99 L198.80,499.13 L199.20,499.43 L199.60,499.66 L200.00,499.73 L200.40,499.85 L200.80,499.95 L201.20,500.05 L201.60,500.12 L202.00,500.19 L202.40,500.25 L202.80,500.31 L203.20,500.35 L203.60,500.39 L204.00,500.42 L204.40,500.45 L204.80,500.47 L205.20,500.50 L205.60,500.51 L206.00,500.53 L206.40,500.54 L206.80,500.55 L207.20,500.56 L207.60,500.57 L208.00,500.57 L208.00,500.60 Z" fill="#898c99" fill-opacity="0.85"/>
<path d="M152.80,500.13 L153.20,500.04 L153.60,499.94 L154.00,499.83 L154.40,499.71 L154.80,499.46 L155.20,499.41 L155.60,499.36 L156.00,498.89 L156.40,498.91 L156.80,498.52 L157.20,498.68 L157.60,498.38 L158.00,497.60 L158.40,497.40 L158.80,497.72 L159.20,497.04 L159.60,496.76 L160.00,496.63 L160.40,496.44 L160.80,495.83 L161.20,495.69 L161.60,495.24 L162.00,493.79 L162.40,494.14 L162.80,493.79 L163.20,493.12 L163.60,493.18 L164.00,491.03 L164.40,491.20 L164.80,490.27 L165.20,488.94 L165.60,489.98 L166.00,488.31 L166.40,487.67 L166.80,486.24 L167.20,485.65 L167.60,485.01 L168.00,484.62 L168.40,482.75 L168.80,481.12 L169.20,479.64 L169.60,479.42 L170.00,478.06 L170.40,476.21 L170.80,475.61 L171.20,474.37 L171.60,472.37 L172.00,470.74 L172.40,469.64 L172.80,468.00 L173.20,468.23 L173.60,466.26 L174.00,466.00 L174.40,463.11 L174.80,463.45 L175.20,461.88 L175.60,460.64 L176.00,460.28 L176.40,459.57 L176.80,458.98 L177.20,458.30 L177.60,457.83 L178.00,457.44 L178.40,457.86 L178.80,458.03 L179.20,458.67 L179.60,459.20 L180.00,458.99 L180.40,458.19 L180.80,459.74 L181.20,461.06 L181.60,461.20 L182.00,461.55 L182.40,462.31 L182.80,464.26 L183.20,464.88 L183.60,467.14 L184.00,466.78 L184.40,468.92 L184.80,470.76 L185.20,471.89 L185.60,472.01 L186.00,473.20 L186.40,475.93 L186.80,475.74 L187.20,478.56 L187.60,480.18 L188.00,481.55 L188.40,482.56 L188.80,482.68 L189.20,484.17 L189.60,484.64 L190.00,487.16 L190.40,488.30 L190.80,487.95 L191.20,489.66 L191.60,490.59 L192.00,490.88 L192.40,493.21 L192.80,493.83 L193.20,494.40 L193.60,494.57 L194.00,495.53 L194.40,495.49 L194.80,496.14 L195.20,496.67 L195.60,497.19 L196.00,497.42 L196.40,497.54 L196.80,497.77 L197.20,498.09 L197.60,498.87 L198.00,498.81 L198.40,498.99 L198.80,499.13 L199.20,499.43 L199.60,499.66 L200.00,499.73 L200.40,499.85 L200.80,499.95 L201.20,500.05 L201.60,500.12 L202.00,500.19" fill="none" stroke="#55585f" stroke-width="0.6"/>
<line x1="124.20" y1="500.60" x2="207.80" y2="500.60" stroke="#55585f" stroke-width="0.8"/>
<path d="M140.00,525.10 L140.00,525.06 L140.40,525.06 L140.80,525.05 L141.20,525.04 L141.60,525.03 L142.00,525.02 L142.40,525.00 L142.80,524.98 L143.20,524.96 L143.60,524.94 L144.00,524.92 L144.40,524.89 L144.80,524.85 L145.20,524.81 L145.60,524.77 L146.00,524.72 L146.40,524.67 L146.80,524.60 L147.20,524.54 L147.60,524.46 L148.00,524.37 L148.40,524.27 L148.80,524.17 L149.20,523.95 L149.60,524.00 L150.00,523.68 L150.40,523.70 L150.80,523.35 L151.20,523.33 L151.60,523.01 L152.00,522.78 L152.40,522.92 L152.80,522.21 L153.20,522.34 L153.60,521.79 L154.00,521.19 L154.40,521.02 L154.80,520.53 L155.20,520.67 L155.60,520.05 L156.00,520.05 L156.40,519.20 L156.80,519.30 L157.20,517.54 L157.60,518.18 L158.00,517.05 L158.40,516.66 L158.80,516.33 L159.20,514.84 L159.60,514.77 L160.00,513.91 L160.40,514.49 L160.80,513.90 L161.20,513.48 L161.60,511.38 L162.00,511.11 L162.40,511.46 L162.80,510.02 L163.20,509.23 L163.60,508.61 L164.00,507.63 L164.40,506.22 L164.80,506.70 L165.20,505.44 L165.60,504.45 L166.00,503.57 L166.40,503.63 L166.80,502.64 L167.20,501.48 L167.60,500.85 L168.00,499.83 L168.40,499.43 L168.80,499.28 L169.20,497.71 L169.60,497.07 L170.00,495.86 L170.40,495.49 L170.80,494.41 L171.20,493.21 L171.60,493.25 L172.00,492.27 L172.40,491.97 L172.80,490.50 L173.20,490.17 L173.60,488.53 L174.00,488.65 L174.40,487.60 L174.80,486.77 L175.20,485.12 L175.60,485.83 L176.00,484.88 L176.40,484.26 L176.80,483.71 L177.20,482.91 L177.60,483.39 L178.00,484.39 L178.40,483.92 L178.80,484.11 L179.20,483.14 L179.60,482.95 L180.00,484.29 L180.40,484.53 L180.80,485.69 L181.20,485.50 L181.60,487.10 L182.00,487.12 L182.40,488.70 L182.80,489.13 L183.20,489.58 L183.60,490.64 L184.00,492.22 L184.40,494.51 L184.80,495.06 L185.20,496.61 L185.60,497.80 L186.00,498.60 L186.40,499.58 L186.80,502.42 L187.20,503.20 L187.60,503.63 L188.00,505.94 L188.40,507.26 L188.80,509.09 L189.20,510.49 L189.60,510.60 L190.00,512.47 L190.40,512.48 L190.80,513.43 L191.20,515.06 L191.60,516.58 L192.00,515.97 L192.40,517.57 L192.80,518.25 L193.20,519.21 L193.60,519.73 L194.00,520.18 L194.40,520.45 L194.80,521.33 L195.20,521.64 L195.60,521.80 L196.00,522.78 L196.40,522.99 L196.80,522.84 L197.20,523.42 L197.60,523.69 L198.00,523.65 L198.40,523.84 L198.80,524.13 L199.20,524.27 L199.60,524.39 L200.00,524.50 L200.40,524.59 L200.80,524.67 L201.20,524.74 L201.60,524.79 L202.00,524.84 L202.40,524.89 L202.80,524.92 L203.20,524.95 L203.60,524.98 L204.00,525.00 L204.40,525.02 L204.80,525.03 L205.00,525.10 Z" fill="#4ba1d9" fill-opacity="0.5"/>
<path d="M146.40,524.67 L146.80,524.60 L147.20,524.54 L147.60,524.46 L148.00,524.37 L148.40,524.27 L148.80,524.17 L149.20,523.95 L149.60,524.00 L150.00,523.68 L150.40,523.70 L150.80,523.35 L151.20,523.33 L151.60,523.01 L152.00,522.78 L152.40,522.92 L152.80,522.21 L153.20,522.34 L153.60,521.79 L154.00,521.19 L154.40,521.02 L154.80,520.53 L155.20,520.67 L155.60,520.05 L156.00,520.05 L156.40,519.20 L156.80,519.30 L157.20,517.54 L157.60,518.18 L158.00,517.05 L158.40,516.66 L158.80,516.33 L159.20,514.84 L159.60,514.77 L160.00,513.91 L160.40,514.49 L160.80,513.90 L161.20,513.48 L161.60,511.38 L162.00,511.11 L162.40,511.46 L162.80,510.02 L163.20,509.23 L163.60,508.61 L164.00,507.63 L164.40,506.22 L164.80,506.70 L165.20,505.44 L165.60,504.45 L166.00,503.57 L166.40,503.63 L166.80,502.64 L167.20,501.48 L167.60,500.85 L168.00,499.83 L168.40,499.43 L168.80,499.28 L169.20,497.71 L169.60,497.07 L170.00,495.86 L170.40,495.49 L170.80,494.41 L171.20,493.21 L171.60,493.25 L172.00,492.27 L172.40,491.97 L172.80,490.50 L173.20,490.17 L173.60,488.53 L174.00,488.65 L174.40,487.60 L174.80,486.77 L175.20,485.12 L175.60,485.83 L176.00,484.88 L176.40,484.26 L176.80,483.71 L177.20,482.91 L177.60,483.39 L178.00,484.39 L178.40,483.92 L178.80,484.11 L179.20,483.14 L179.60,482.95 L180.00,484.29 L180.40,484.53 L180.80,485.69 L181.20,485.50 L181.60,487.10 L182.00,487.12 L182.40,488.70 L182.80,489.13 L183.20,489.58 L183.60,490.64 L184.00,492.22 L184.40,494.51 L184.80,495.06 L185.20,496.61 L185.60,497.80 L186.00,498.60 L186.40,499.58 L186.80,502.42 L187.20,503.20 L187.60,503.63 L188.00,505.94 L188.40,507.26 L188.80,509.09 L189.20,510.49 L189.60,510.60 L190.00,512.47 L190.40,512.48 L190.80,513.43 L191.20,515.06 L191.60,516.58 L192.00,515.97 L192.40,517.57 L192.80,518.25 L193.20,519.21 L193.60,519.73 L194.00,520.18 L194.40,520.45 L194.80,521.33 L195.20,521.64 L195.60,521.80 L196.00,522.78 L196.40,522.99 L196.80,522.84 L197.20,523.42 L197.60,523.69 L198.00,523.65 L198.40,523.84 L198.80,524.13 L199.20,524.27 L199.60,524.39 L200.00,524.50 L200.40,524.59 L200.80,524.67" fill="none" stroke="#3a9ad8" stroke-width="0.6"/>
<line x1="124.20" y1="525.10" x2="207.80" y2="525.10" stroke="#3a9ad8" stroke-width="0.8"/>
<path d="M136.00,548.60 L136.00,548.39 L136.40,548.36 L136.80,548.31 L137.20,548.26 L137.60,548.20 L138.00,548.13 L138.40,548.05 L138.80,547.96 L139.20,547.86 L139.60,547.75 L140.00,547.61 L140.40,547.44 L140.80,547.27 L141.20,547.13 L141.60,546.82 L142.00,546.68 L142.40,546.42 L142.80,546.37 L143.20,546.10 L143.60,545.32 L144.00,545.49 L144.40,544.42 L144.80,544.12 L145.20,543.89 L145.60,542.70 L146.00,542.76 L146.40,542.10 L146.80,540.61 L147.20,540.61 L147.60,539.77 L148.00,540.20 L148.40,537.86 L148.80,537.76 L149.20,537.15 L149.60,535.09 L150.00,534.66 L150.40,534.01 L150.80,532.53 L151.20,531.87 L151.60,530.40 L152.00,528.49 L152.40,529.10 L152.80,525.94 L153.20,525.36 L153.60,524.29 L154.00,524.38 L154.40,522.16 L154.80,522.65 L155.20,520.33 L155.60,519.87 L156.00,517.66 L156.40,518.84 L156.80,517.11 L157.20,516.25 L157.60,514.71 L158.00,515.42 L158.40,515.10 L158.80,514.49 L159.20,513.60 L159.60,513.64 L160.00,514.44 L160.40,513.65 L160.80,514.35 L161.20,514.07 L161.60,515.02 L162.00,516.30 L162.40,516.82 L162.80,515.67 L163.20,518.65 L163.60,518.16 L164.00,518.64 L164.40,520.54 L164.80,520.60 L165.20,522.38 L165.60,522.47 L166.00,523.85 L166.40,526.85 L166.80,526.52 L167.20,528.69 L167.60,528.98 L168.00,529.83 L168.40,531.37 L168.80,532.14 L169.20,534.25 L169.60,535.42 L170.00,535.24 L170.40,536.65 L170.80,537.91 L171.20,537.88 L171.60,539.63 L172.00,539.83 L172.40,541.96 L172.80,542.41 L173.20,542.79 L173.60,542.61 L174.00,543.25 L174.40,544.39 L174.80,544.71 L175.20,545.10 L175.60,545.69 L176.00,545.89 L176.40,546.43 L176.80,546.62 L177.20,546.73 L177.60,547.00 L178.00,547.45 L178.40,547.50 L178.80,547.66 L179.20,547.80 L179.60,547.92 L180.00,548.02 L180.40,548.11 L180.80,548.18 L181.20,548.25 L181.60,548.30 L182.00,548.35 L182.40,548.39 L182.80,548.43 L183.20,548.46 L183.60,548.48 L184.00,548.50 L184.40,548.52 L184.80,548.54 L185.00,548.60 Z" fill="#c8c8ce" fill-opacity="0.5"/>
<path d="M138.00,548.13 L138.40,548.05 L138.80,547.96 L139.20,547.86 L139.60,547.75 L140.00,547.61 L140.40,547.44 L140.80,547.27 L141.20,547.13 L141.60,546.82 L142.00,546.68 L142.40,546.42 L142.80,546.37 L143.20,546.10 L143.60,545.32 L144.00,545.49 L144.40,544.42 L144.80,544.12 L145.20,543.89 L145.60,542.70 L146.00,542.76 L146.40,542.10 L146.80,540.61 L147.20,540.61 L147.60,539.77 L148.00,540.20 L148.40,537.86 L148.80,537.76 L149.20,537.15 L149.60,535.09 L150.00,534.66 L150.40,534.01 L150.80,532.53 L151.20,531.87 L151.60,530.40 L152.00,528.49 L152.40,529.10 L152.80,525.94 L153.20,525.36 L153.60,524.29 L154.00,524.38 L154.40,522.16 L154.80,522.65 L155.20,520.33 L155.60,519.87 L156.00,517.66 L156.40,518.84 L156.80,517.11 L157.20,516.25 L157.60,514.71 L158.00,515.42 L158.40,515.10 L158.80,514.49 L159.20,513.60 L159.60,513.64 L160.00,514.44 L160.40,513.65 L160.80,514.35 L161.20,514.07 L161.60,515.02 L162.00,516.30 L162.40,516.82 L162.80,515.67 L163.20,518.65 L163.60,518.16 L164.00,518.64 L164.40,520.54 L164.80,520.60 L165.20,522.38 L165.60,522.47 L166.00,523.85 L166.40,526.85 L166.80,526.52 L167.20,528.69 L167.60,528.98 L168.00,529.83 L168.40,531.37 L168.80,532.14 L169.20,534.25 L169.60,535.42 L170.00,535.24 L170.40,536.65 L170.80,537.91 L171.20,537.88 L171.60,539.63 L172.00,539.83 L172.40,541.96 L172.80,542.41 L173.20,542.79 L173.60,542.61 L174.00,543.25 L174.40,544.39 L174.80,544.71 L175.20,545.10 L175.60,545.69 L176.00,545.89 L176.40,546.43 L176.80,546.62 L177.20,546.73 L177.60,547.00 L178.00,547.45 L178.40,547.50 L178.80,547.66 L179.20,547.80 L179.60,547.92 L180.00,548.02 L180.40,548.11 L180.80,548.18" fill="none" stroke="#c4c4c8" stroke-width="0.6"/>
<line x1="124.20" y1="548.60" x2="207.80" y2="548.60" stroke="#c4c4c8" stroke-width="0.8"/>
</g>
<line x1="124.20" y1="548.60" x2="207.80" y2="548.60" stroke="#231f20" stroke-width="0.9"/>
<line x1="129.31" y1="548.60" x2="129.31" y2="549.80" stroke="#231f20" stroke-width="0.6"/>
<line x1="134.88" y1="548.60" x2="134.88" y2="549.80" stroke="#231f20" stroke-width="0.6"/>
<line x1="138.83" y1="548.60" x2="138.83" y2="549.80" stroke="#231f20" stroke-width="0.6"/>
<line x1="141.89" y1="548.60" x2="141.89" y2="549.80" stroke="#231f20" stroke-width="0.6"/>
<line x1="144.39" y1="548.60" x2="144.39" y2="549.80" stroke="#231f20" stroke-width="0.6"/>
<line x1="146.51" y1="548.60" x2="146.51" y2="549.80" stroke="#231f20" stroke-width="0.6"/>
<line x1="148.34" y1="548.60" x2="148.34" y2="549.80" stroke="#231f20" stroke-width="0.6"/>
<line x1="149.95" y1="548.60" x2="149.95" y2="549.80" stroke="#231f20" stroke-width="0.6"/>
<line x1="151.40" y1="548.60" x2="151.40" y2="550.80" stroke="#231f20" stroke-width="0.6"/>
<line x1="160.91" y1="548.60" x2="160.91" y2="549.80" stroke="#231f20" stroke-width="0.6"/>
<line x1="166.48" y1="548.60" x2="166.48" y2="549.80" stroke="#231f20" stroke-width="0.6"/>
<line x1="170.43" y1="548.60" x2="170.43" y2="549.80" stroke="#231f20" stroke-width="0.6"/>
<line x1="173.49" y1="548.60" x2="173.49" y2="549.80" stroke="#231f20" stroke-width="0.6"/>
<line x1="175.99" y1="548.60" x2="175.99" y2="549.80" stroke="#231f20" stroke-width="0.6"/>
<line x1="178.11" y1="548.60" x2="178.11" y2="549.80" stroke="#231f20" stroke-width="0.6"/>
<line x1="179.94" y1="548.60" x2="179.94" y2="549.80" stroke="#231f20" stroke-width="0.6"/>
<line x1="181.55" y1="548.60" x2="181.55" y2="549.80" stroke="#231f20" stroke-width="0.6"/>
<line x1="183.00" y1="548.60" x2="183.00" y2="550.80" stroke="#231f20" stroke-width="0.6"/>
<line x1="192.51" y1="548.60" x2="192.51" y2="549.80" stroke="#231f20" stroke-width="0.6"/>
<line x1="198.08" y1="548.60" x2="198.08" y2="549.80" stroke="#231f20" stroke-width="0.6"/>
<line x1="202.03" y1="548.60" x2="202.03" y2="549.80" stroke="#231f20" stroke-width="0.6"/>
<line x1="205.09" y1="548.60" x2="205.09" y2="549.80" stroke="#231f20" stroke-width="0.6"/>
<line x1="179.60" y1="451.60" x2="179.60" y2="550.10" stroke="#231f20" stroke-width="0.9"/>
<text x="151.6" y="561.8" font-size="7.6" text-anchor="middle" fill="#231f20" stroke="#231f20" stroke-width="0.2">10<tspan font-size="5" dy="-3.2">2</tspan></text>
<text x="183.2" y="561.8" font-size="7.6" text-anchor="middle" fill="#231f20" stroke="#231f20" stroke-width="0.2">10<tspan font-size="5" dy="-3.2">3</tspan></text>
<text x="128.1" y="462.40000000000003" font-size="7.1" text-anchor="start" font-weight="normal" font-style="normal" fill="#231f20" stroke="#231f20" stroke-width="0.12" >(pSTAT5)</text>
<rect x="124.2" y="451.6" width="83.6" height="113" fill="none" stroke="#4fb3e3" stroke-width="1.2"/>
<text x="274.7" y="446.20000000000005" font-size="9.3" text-anchor="middle" font-weight="normal" font-style="italic" fill="#231f20" stroke="#231f20" stroke-width="0.1" >ZC3HAV1::ABL2 Δ4</text>
<clipPath id="c232451"><rect x="232.4" y="451.6" width="83.6" height="113"/></clipPath>
<g clip-path="url(#c232451)">
<path d="M245.00,500.60 L245.00,500.60 L245.40,500.60 L245.80,500.60 L246.20,500.59 L246.60,500.59 L247.00,500.59 L247.40,500.59 L247.80,500.59 L248.20,500.58 L248.60,500.58 L249.00,500.58 L249.40,500.57 L249.80,500.57 L250.20,500.56 L250.60,500.55 L251.00,500.54 L251.40,500.53 L251.80,500.52 L252.20,500.50 L252.60,500.48 L253.00,500.46 L253.40,500.43 L253.80,500.41 L254.20,500.37 L254.60,500.33 L255.00,500.29 L255.40,500.24 L255.80,500.18 L256.20,500.11 L256.60,500.04 L257.00,499.95 L257.40,499.85 L257.80,499.74 L258.20,499.62 L258.60,499.56 L259.00,499.43 L259.40,499.34 L259.80,498.79 L260.20,498.88 L260.60,498.66 L261.00,497.95 L261.40,498.05 L261.80,497.67 L262.20,497.70 L262.60,497.21 L263.00,496.73 L263.40,496.70 L263.80,496.06 L264.20,495.25 L264.60,494.07 L265.00,493.75 L265.40,494.14 L265.80,492.51 L266.20,490.93 L266.60,490.92 L267.00,490.38 L267.40,490.85 L267.80,490.00 L268.20,488.90 L268.60,487.30 L269.00,486.63 L269.40,484.24 L269.80,485.18 L270.20,483.23 L270.60,482.94 L271.00,482.04 L271.40,479.12 L271.80,478.57 L272.20,479.41 L272.60,478.37 L273.00,476.59 L273.40,475.89 L273.80,473.33 L274.20,474.35 L274.60,472.60 L275.00,471.21 L275.40,471.38 L275.80,469.62 L276.20,468.75 L276.60,468.29 L277.00,466.28 L277.40,466.37 L277.80,464.62 L278.20,465.10 L278.60,463.76 L279.00,462.25 L279.40,462.77 L279.80,461.83 L280.20,461.41 L280.60,460.67 L281.00,463.49 L281.40,464.01 L281.80,466.26 L282.20,466.96 L282.60,467.85 L283.00,470.27 L283.40,471.30 L283.80,471.43 L284.20,470.21 L284.60,470.98 L285.00,471.29 L285.40,470.96 L285.80,471.17 L286.20,470.87 L286.60,470.08 L287.00,470.37 L287.40,471.11 L287.80,470.31 L288.20,469.57 L288.60,471.41 L289.00,471.64 L289.40,471.78 L289.80,471.98 L290.20,472.94 L290.60,474.06 L291.00,474.53 L291.40,476.83 L291.80,475.64 L292.20,478.42 L292.60,479.29 L293.00,479.32 L293.40,480.61 L293.80,481.52 L294.20,482.99 L294.60,483.41 L295.00,484.46 L295.40,486.82 L295.80,486.59 L296.20,487.26 L296.60,488.08 L297.00,490.13 L297.40,489.74 L297.80,491.18 L298.20,493.02 L298.60,493.23 L299.00,492.83 L299.40,495.09 L299.80,494.63 L300.20,495.17 L300.60,495.42 L301.00,496.41 L301.40,496.95 L301.80,497.79 L302.20,498.15 L302.60,498.44 L303.00,498.48 L303.40,498.58 L303.80,498.94 L304.20,499.19 L304.60,499.24 L305.00,499.33 L305.40,499.64 L305.80,499.78 L306.20,499.90 L306.60,500.00 L307.00,500.09 L307.40,500.17 L307.80,500.23 L308.20,500.29 L308.60,500.34 L309.00,500.38 L309.40,500.42 L309.80,500.45 L310.20,500.48 L310.60,500.50 L311.00,500.52 L311.40,500.53 L311.80,500.54 L312.20,500.55 L312.60,500.56 L313.00,500.57 L313.40,500.58 L313.80,500.58 L314.20,500.58 L314.60,500.59 L315.00,500.59 L315.40,500.59 L315.80,500.59 L316.00,500.60 Z" fill="#898c99" fill-opacity="0.85"/>
<path d="M255.80,500.18 L256.20,500.11 L256.60,500.04 L257.00,499.95 L257.40,499.85 L257.80,499.74 L258.20,499.62 L258.60,499.56 L259.00,499.43 L259.40,499.34 L259.80,498.79 L260.20,498.88 L260.60,498.66 L261.00,497.95 L261.40,498.05 L261.80,497.67 L262.20,497.70 L262.60,497.21 L263.00,496.73 L263.40,496.70 L263.80,496.06 L264.20,495.25 L264.60,494.07 L265.00,493.75 L265.40,494.14 L265.80,492.51 L266.20,490.93 L266.60,490.92 L267.00,490.38 L267.40,490.85 L267.80,490.00 L268.20,488.90 L268.60,487.30 L269.00,486.63 L269.40,484.24 L269.80,485.18 L270.20,483.23 L270.60,482.94 L271.00,482.04 L271.40,479.12 L271.80,478.57 L272.20,479.41 L272.60,478.37 L273.00,476.59 L273.40,475.89 L273.80,473.33 L274.20,474.35 L274.60,472.60 L275.00,471.21 L275.40,471.38 L275.80,469.62 L276.20,468.75 L276.60,468.29 L277.00,466.28 L277.40,466.37 L277.80,464.62 L278.20,465.10 L278.60,463.76 L279.00,462.25 L279.40,462.77 L279.80,461.83 L280.20,461.41 L280.60,460.67 L281.00,463.49 L281.40,464.01 L281.80,466.26 L282.20,466.96 L282.60,467.85 L283.00,470.27 L283.40,471.30 L283.80,471.43 L284.20,470.21 L284.60,470.98 L285.00,471.29 L285.40,470.96 L285.80,471.17 L286.20,470.87 L286.60,470.08 L287.00,470.37 L287.40,471.11 L287.80,470.31 L288.20,469.57 L288.60,471.41 L289.00,471.64 L289.40,471.78 L289.80,471.98 L290.20,472.94 L290.60,474.06 L291.00,474.53 L291.40,476.83 L291.80,475.64 L292.20,478.42 L292.60,479.29 L293.00,479.32 L293.40,480.61 L293.80,481.52 L294.20,482.99 L294.60,483.41 L295.00,484.46 L295.40,486.82 L295.80,486.59 L296.20,487.26 L296.60,488.08 L297.00,490.13 L297.40,489.74 L297.80,491.18 L298.20,493.02 L298.60,493.23 L299.00,492.83 L299.40,495.09 L299.80,494.63 L300.20,495.17 L300.60,495.42 L301.00,496.41 L301.40,496.95 L301.80,497.79 L302.20,498.15 L302.60,498.44 L303.00,498.48 L303.40,498.58 L303.80,498.94 L304.20,499.19 L304.60,499.24 L305.00,499.33 L305.40,499.64 L305.80,499.78 L306.20,499.90 L306.60,500.00 L307.00,500.09 L307.40,500.17" fill="none" stroke="#55585f" stroke-width="0.6"/>
<line x1="232.40" y1="500.60" x2="316.00" y2="500.60" stroke="#55585f" stroke-width="0.8"/>
<path d="M240.00,525.30 L240.00,525.30 L240.40,525.30 L240.80,525.30 L241.20,525.30 L241.60,525.30 L242.00,525.30 L242.40,525.30 L242.80,525.30 L243.20,525.30 L243.60,525.30 L244.00,525.30 L244.40,525.30 L244.80,525.30 L245.20,525.30 L245.60,525.30 L246.00,525.30 L246.40,525.30 L246.80,525.30 L247.20,525.30 L247.60,525.30 L248.00,525.30 L248.40,525.30 L248.80,525.30 L249.20,525.30 L249.60,525.30 L250.00,525.30 L250.40,525.29 L250.80,525.29 L251.20,525.28 L251.60,525.28 L252.00,525.27 L252.40,525.25 L252.80,525.24 L253.20,525.21 L253.60,525.18 L254.00,525.13 L254.40,525.08 L254.80,525.00 L255.20,524.91 L255.60,524.80 L256.00,524.66 L256.40,524.49 L256.80,524.25 L257.20,524.01 L257.60,523.75 L258.00,523.31 L258.40,523.04 L258.80,522.76 L259.20,521.89 L259.60,521.72 L260.00,520.76 L260.40,520.03 L260.80,519.99 L261.20,518.46 L261.60,517.11 L262.00,516.58 L262.40,516.37 L262.80,515.26 L263.20,513.88 L263.60,513.19 L264.00,511.10 L264.40,510.79 L264.80,509.24 L265.20,508.66 L265.60,506.74 L266.00,506.00 L266.40,503.79 L266.80,503.42 L267.20,501.92 L267.60,501.35 L268.00,500.90 L268.40,498.76 L268.80,498.88 L269.20,497.94 L269.60,495.95 L270.00,496.00 L270.40,495.01 L270.80,494.34 L271.20,493.36 L271.60,492.74 L272.00,492.80 L272.40,492.46 L272.80,490.71 L273.20,491.43 L273.60,490.68 L274.00,489.62 L274.40,490.45 L274.80,490.22 L275.20,489.55 L275.60,489.31 L276.00,488.35 L276.40,488.06 L276.80,489.45 L277.20,488.61 L277.60,487.78 L278.00,488.12 L278.40,489.11 L278.80,488.61 L279.20,488.55 L279.60,488.13 L280.00,488.56 L280.40,488.15 L280.80,487.93 L281.20,488.89 L281.60,487.74 L282.00,488.25 L282.40,488.89 L282.80,487.99 L283.20,488.89 L283.60,488.00 L284.00,488.16 L284.40,488.93 L284.80,488.58 L285.20,488.37 L285.60,488.14 L286.00,488.65 L286.40,488.25 L286.80,489.03 L287.20,488.16 L287.60,488.22 L288.00,488.57 L288.40,489.56 L288.80,489.75 L289.20,490.08 L289.60,489.42 L290.00,489.45 L290.40,490.07 L290.80,491.22 L291.20,491.83 L291.60,492.63 L292.00,492.03 L292.40,493.40 L292.80,493.85 L293.20,494.46 L293.60,496.39 L294.00,497.12 L294.40,497.89 L294.80,499.02 L295.20,500.86 L295.60,502.70 L296.00,503.56 L296.40,504.95 L296.80,506.53 L297.20,507.67 L297.60,510.18 L298.00,511.94 L298.40,512.57 L298.80,513.35 L299.20,515.36 L299.60,516.87 L300.00,517.99 L300.40,519.27 L300.80,520.34 L301.20,520.68 L301.60,521.89 L302.00,522.16 L302.40,522.66 L302.80,523.30 L303.20,523.77 L303.60,524.16 L304.00,524.42 L304.40,524.64 L304.80,524.82 L305.20,524.95 L305.60,525.05 L306.00,525.13 L306.40,525.18 L306.80,525.22 L307.20,525.25 L307.60,525.27 L308.00,525.28 L308.40,525.29 L308.80,525.29 L309.20,525.30 L309.60,525.30 L310.00,525.30 L310.40,525.30 L310.80,525.30 L311.20,525.30 L311.60,525.30 L312.00,525.30 L312.40,525.30 L312.80,525.30 L313.20,525.30 L313.60,525.30 L314.00,525.30 L314.40,525.30 L314.80,525.30 L315.20,525.30 L315.60,525.30 L316.00,525.30 L316.00,525.30 Z" fill="#4ba1d9" fill-opacity="0.5"/>
<path d="M255.60,524.80 L256.00,524.66 L256.40,524.49 L256.80,524.25 L257.20,524.01 L257.60,523.75 L258.00,523.31 L258.40,523.04 L258.80,522.76 L259.20,521.89 L259.60,521.72 L260.00,520.76 L260.40,520.03 L260.80,519.99 L261.20,518.46 L261.60,517.11 L262.00,516.58 L262.40,516.37 L262.80,515.26 L263.20,513.88 L263.60,513.19 L264.00,511.10 L264.40,510.79 L264.80,509.24 L265.20,508.66 L265.60,506.74 L266.00,506.00 L266.40,503.79 L266.80,503.42 L267.20,501.92 L267.60,501.35 L268.00,500.90 L268.40,498.76 L268.80,498.88 L269.20,497.94 L269.60,495.95 L270.00,496.00 L270.40,495.01 L270.80,494.34 L271.20,493.36 L271.60,492.74 L272.00,492.80 L272.40,492.46 L272.80,490.71 L273.20,491.43 L273.60,490.68 L274.00,489.62 L274.40,490.45 L274.80,490.22 L275.20,489.55 L275.60,489.31 L276.00,488.35 L276.40,488.06 L276.80,489.45 L277.20,488.61 L277.60,487.78 L278.00,488.12 L278.40,489.11 L278.80,488.61 L279.20,488.55 L279.60,488.13 L280.00,488.56 L280.40,488.15 L280.80,487.93 L281.20,488.89 L281.60,487.74 L282.00,488.25 L282.40,488.89 L282.80,487.99 L283.20,488.89 L283.60,488.00 L284.00,488.16 L284.40,488.93 L284.80,488.58 L285.20,488.37 L285.60,488.14 L286.00,488.65 L286.40,488.25 L286.80,489.03 L287.20,488.16 L287.60,488.22 L288.00,488.57 L288.40,489.56 L288.80,489.75 L289.20,490.08 L289.60,489.42 L290.00,489.45 L290.40,490.07 L290.80,491.22 L291.20,491.83 L291.60,492.63 L292.00,492.03 L292.40,493.40 L292.80,493.85 L293.20,494.46 L293.60,496.39 L294.00,497.12 L294.40,497.89 L294.80,499.02 L295.20,500.86 L295.60,502.70 L296.00,503.56 L296.40,504.95 L296.80,506.53 L297.20,507.67 L297.60,510.18 L298.00,511.94 L298.40,512.57 L298.80,513.35 L299.20,515.36 L299.60,516.87 L300.00,517.99 L300.40,519.27 L300.80,520.34 L301.20,520.68 L301.60,521.89 L302.00,522.16 L302.40,522.66 L302.80,523.30 L303.20,523.77 L303.60,524.16 L304.00,524.42 L304.40,524.64 L304.80,524.82" fill="none" stroke="#3a9ad8" stroke-width="0.6"/>
<line x1="232.40" y1="525.30" x2="316.00" y2="525.30" stroke="#3a9ad8" stroke-width="0.8"/>
<path d="M245.00,548.60 L245.00,548.60 L245.40,548.59 L245.80,548.59 L246.20,548.59 L246.60,548.59 L247.00,548.58 L247.40,548.58 L247.80,548.57 L248.20,548.56 L248.60,548.55 L249.00,548.54 L249.40,548.52 L249.80,548.50 L250.20,548.48 L250.60,548.44 L251.00,548.41 L251.40,548.36 L251.80,548.31 L252.20,548.24 L252.60,548.16 L253.00,548.07 L253.40,547.96 L253.80,547.82 L254.20,547.67 L254.60,547.54 L255.00,547.16 L255.40,546.90 L255.80,546.57 L256.20,546.45 L256.60,546.10 L257.00,545.39 L257.40,544.85 L257.80,544.26 L258.20,544.32 L258.60,543.53 L259.00,542.28 L259.40,542.45 L259.80,541.45 L260.20,539.99 L260.60,539.62 L261.00,538.59 L261.40,537.73 L261.80,536.57 L262.20,535.89 L262.60,533.92 L263.00,533.16 L263.40,530.65 L263.80,529.52 L264.20,527.82 L264.60,527.46 L265.00,526.11 L265.40,523.53 L265.80,522.70 L266.20,521.01 L266.60,520.62 L267.00,518.46 L267.40,518.78 L267.80,516.47 L268.20,516.45 L268.60,515.63 L269.00,514.59 L269.40,514.73 L269.80,515.10 L270.20,514.38 L270.60,515.65 L271.00,515.22 L271.40,514.61 L271.80,516.89 L272.20,516.53 L272.60,517.87 L273.00,519.92 L273.40,521.44 L273.80,522.83 L274.20,523.21 L274.60,525.87 L275.00,527.40 L275.40,529.27 L275.80,530.22 L276.20,531.27 L276.60,534.09 L277.00,535.17 L277.40,536.37 L277.80,536.56 L278.20,538.81 L278.60,539.90 L279.00,542.05 L279.40,542.89 L279.80,542.46 L280.20,543.39 L280.60,544.53 L281.00,545.50 L281.40,545.66 L281.80,546.03 L282.20,546.83 L282.60,546.80 L283.00,547.16 L283.40,547.46 L283.80,547.71 L284.20,547.89 L284.60,548.03 L285.00,548.15 L285.40,548.24 L285.80,548.32 L286.20,548.38 L286.60,548.43 L287.00,548.47 L287.40,548.50 L287.80,548.53 L288.20,548.54 L288.60,548.56 L289.00,548.57 L289.40,548.58 L289.80,548.58 L290.20,548.59 L290.60,548.59 L291.00,548.59 L291.40,548.60 L291.80,548.60 L292.20,548.60 L292.60,548.60 L293.00,548.60 L293.40,548.60 L293.80,548.60 L294.20,548.60 L294.60,548.60 L295.00,548.60 L295.00,548.60 Z" fill="#c8c8ce" fill-opacity="0.5"/>
<path d="M252.60,548.16 L253.00,548.07 L253.40,547.96 L253.80,547.82 L254.20,547.67 L254.60,547.54 L255.00,547.16 L255.40,546.90 L255.80,546.57 L256.20,546.45 L256.60,546.10 L257.00,545.39 L257.40,544.85 L257.80,544.26 L258.20,544.32 L258.60,543.53 L259.00,542.28 L259.40,542.45 L259.80,541.45 L260.20,539.99 L260.60,539.62 L261.00,538.59 L261.40,537.73 L261.80,536.57 L262.20,535.89 L262.60,533.92 L263.00,533.16 L263.40,530.65 L263.80,529.52 L264.20,527.82 L264.60,527.46 L265.00,526.11 L265.40,523.53 L265.80,522.70 L266.20,521.01 L266.60,520.62 L267.00,518.46 L267.40,518.78 L267.80,516.47 L268.20,516.45 L268.60,515.63 L269.00,514.59 L269.40,514.73 L269.80,515.10 L270.20,514.38 L270.60,515.65 L271.00,515.22 L271.40,514.61 L271.80,516.89 L272.20,516.53 L272.60,517.87 L273.00,519.92 L273.40,521.44 L273.80,522.83 L274.20,523.21 L274.60,525.87 L275.00,527.40 L275.40,529.27 L275.80,530.22 L276.20,531.27 L276.60,534.09 L277.00,535.17 L277.40,536.37 L277.80,536.56 L278.20,538.81 L278.60,539.90 L279.00,542.05 L279.40,542.89 L279.80,542.46 L280.20,543.39 L280.60,544.53 L281.00,545.50 L281.40,545.66 L281.80,546.03 L282.20,546.83 L282.60,546.80 L283.00,547.16 L283.40,547.46 L283.80,547.71 L284.20,547.89 L284.60,548.03 L285.00,548.15" fill="none" stroke="#c4c4c8" stroke-width="0.6"/>
<line x1="232.40" y1="548.60" x2="316.00" y2="548.60" stroke="#c4c4c8" stroke-width="0.8"/>
</g>
<line x1="232.40" y1="548.60" x2="316.00" y2="548.60" stroke="#231f20" stroke-width="0.9"/>
<line x1="235.81" y1="548.60" x2="235.81" y2="549.80" stroke="#231f20" stroke-width="0.6"/>
<line x1="241.55" y1="548.60" x2="241.55" y2="549.80" stroke="#231f20" stroke-width="0.6"/>
<line x1="245.63" y1="548.60" x2="245.63" y2="549.80" stroke="#231f20" stroke-width="0.6"/>
<line x1="248.79" y1="548.60" x2="248.79" y2="549.80" stroke="#231f20" stroke-width="0.6"/>
<line x1="251.37" y1="548.60" x2="251.37" y2="549.80" stroke="#231f20" stroke-width="0.6"/>
<line x1="253.55" y1="548.60" x2="253.55" y2="549.80" stroke="#231f20" stroke-width="0.6"/>
<line x1="255.44" y1="548.60" x2="255.44" y2="549.80" stroke="#231f20" stroke-width="0.6"/>
<line x1="257.11" y1="548.60" x2="257.11" y2="549.80" stroke="#231f20" stroke-width="0.6"/>
<line x1="258.60" y1="548.60" x2="258.60" y2="550.80" stroke="#231f20" stroke-width="0.6"/>
<line x1="268.41" y1="548.60" x2="268.41" y2="549.80" stroke="#231f20" stroke-width="0.6"/>
<line x1="274.15" y1="548.60" x2="274.15" y2="549.80" stroke="#231f20" stroke-width="0.6"/>
<line x1="278.23" y1="548.60" x2="278.23" y2="549.80" stroke="#231f20" stroke-width="0.6"/>
<line x1="281.39" y1="548.60" x2="281.39" y2="549.80" stroke="#231f20" stroke-width="0.6"/>
<line x1="283.97" y1="548.60" x2="283.97" y2="549.80" stroke="#231f20" stroke-width="0.6"/>
<line x1="286.15" y1="548.60" x2="286.15" y2="549.80" stroke="#231f20" stroke-width="0.6"/>
<line x1="288.04" y1="548.60" x2="288.04" y2="549.80" stroke="#231f20" stroke-width="0.6"/>
<line x1="289.71" y1="548.60" x2="289.71" y2="549.80" stroke="#231f20" stroke-width="0.6"/>
<line x1="291.20" y1="548.60" x2="291.20" y2="550.80" stroke="#231f20" stroke-width="0.6"/>
<line x1="301.01" y1="548.60" x2="301.01" y2="549.80" stroke="#231f20" stroke-width="0.6"/>
<line x1="306.75" y1="548.60" x2="306.75" y2="549.80" stroke="#231f20" stroke-width="0.6"/>
<line x1="310.83" y1="548.60" x2="310.83" y2="549.80" stroke="#231f20" stroke-width="0.6"/>
<line x1="313.99" y1="548.60" x2="313.99" y2="549.80" stroke="#231f20" stroke-width="0.6"/>
<line x1="283.50" y1="451.60" x2="283.50" y2="550.10" stroke="#231f20" stroke-width="0.9"/>
<text x="258.8" y="561.8" font-size="7.6" text-anchor="middle" fill="#231f20" stroke="#231f20" stroke-width="0.2">10<tspan font-size="5" dy="-3.2">2</tspan></text>
<text x="291.4" y="561.8" font-size="7.6" text-anchor="middle" fill="#231f20" stroke="#231f20" stroke-width="0.2">10<tspan font-size="5" dy="-3.2">3</tspan></text>
<text x="236.3" y="462.40000000000003" font-size="7.1" text-anchor="start" font-weight="normal" font-style="normal" fill="#231f20" stroke="#231f20" stroke-width="0.12" >(pSTAT5)</text>
<rect x="232.4" y="451.6" width="83.6" height="113" fill="none" stroke="#4fb3e3" stroke-width="1.2"/>
<rect x="94.2" y="574.7" width="5.2" height="5.2" fill="#777980" stroke="#55585f" stroke-width="0.7"/>
<text x="103.1" y="579.8000000000001" font-size="6.9" text-anchor="start" font-weight="normal" font-style="normal" fill="#231f20" stroke="#231f20" stroke-width="0.2" >untreated</text>
<rect x="141.2" y="574.7" width="5.2" height="5.2" fill="#a8d2f0" stroke="#4fb3e3" stroke-width="0.7"/>
<text x="150" y="579.8000000000001" font-size="6.9" text-anchor="start" font-weight="normal" font-style="normal" fill="#231f20" stroke="#231f20" stroke-width="0.2" >5μM TERN-701</text>
<rect x="207.9" y="574.7" width="5.2" height="5.2" fill="#dcdcdc" stroke="#c8c8c8" stroke-width="0.7"/>
<text x="216.5" y="579.8000000000001" font-size="6.9" text-anchor="start" font-weight="normal" font-style="normal" fill="#231f20" stroke="#231f20" stroke-width="0.2" >Isotype</text>
<text x="334.4" y="266.5" font-size="11" text-anchor="start" font-weight="bold" font-style="normal" fill="#000" stroke="#000" stroke-width="0.2" >E</text>
<line x1="377.20" y1="300.80" x2="377.20" y2="388.90" stroke="#231f20" stroke-width="0.9"/>
<line x1="374.00" y1="388.90" x2="377.20" y2="388.90" stroke="#231f20" stroke-width="0.9"/>
<text x="371.3" y="391.29999999999995" font-size="7.3" text-anchor="end" font-weight="normal" font-style="normal" fill="#231f20" stroke="#231f20" stroke-width="0.2" >0</text>
<line x1="374.00" y1="371.58" x2="377.20" y2="371.58" stroke="#231f20" stroke-width="0.9"/>
<text x="371.3" y="373.97999999999996" font-size="7.3" text-anchor="end" font-weight="normal" font-style="normal" fill="#231f20" stroke="#231f20" stroke-width="0.2" >20</text>
<line x1="374.00" y1="354.26" x2="377.20" y2="354.26" stroke="#231f20" stroke-width="0.9"/>
<text x="371.3" y="356.65999999999997" font-size="7.3" text-anchor="end" font-weight="normal" font-style="normal" fill="#231f20" stroke="#231f20" stroke-width="0.2" >40</text>
<line x1="374.00" y1="336.94" x2="377.20" y2="336.94" stroke="#231f20" stroke-width="0.9"/>
<text x="371.3" y="339.34" font-size="7.3" text-anchor="end" font-weight="normal" font-style="normal" fill="#231f20" stroke="#231f20" stroke-width="0.2" >60</text>
<line x1="374.00" y1="319.62" x2="377.20" y2="319.62" stroke="#231f20" stroke-width="0.9"/>
<text x="371.3" y="322.02" font-size="7.3" text-anchor="end" font-weight="normal" font-style="normal" fill="#231f20" stroke="#231f20" stroke-width="0.2" >80</text>
<line x1="374.00" y1="302.30" x2="377.20" y2="302.30" stroke="#231f20" stroke-width="0.9"/>
<text x="371.3" y="304.7" font-size="7.3" text-anchor="end" font-weight="normal" font-style="normal" fill="#231f20" stroke="#231f20" stroke-width="0.2" >100</text>
<line x1="377.20" y1="388.90" x2="479.70" y2="388.90" stroke="#231f20" stroke-width="0.9"/>
<rect x="382.20" y="303.51" width="8.20" height="85.39" fill="#465266" />
<line x1="392.90" y1="388.90" x2="392.90" y2="390.90" stroke="#231f20" stroke-width="0.9"/>
<text x="392.90000000000003" y="401.5" font-size="7.6" text-anchor="middle" font-weight="normal" font-style="normal" fill="#231f20" stroke="#231f20" stroke-width="0.08" >Z-A</text>
<line x1="399.50" y1="384.74" x2="399.50" y2="388.64" stroke="#231f20" stroke-width="0.8"/>
<line x1="397.00" y1="384.74" x2="402.00" y2="384.74" stroke="#231f20" stroke-width="0.8"/>
<rect x="417.70" y="303.51" width="8.20" height="85.39" fill="#465266" />
<rect x="430.80" y="326.55" width="8.40" height="62.35" fill="#cc0a2c" />
<line x1="428.40" y1="388.90" x2="428.40" y2="390.90" stroke="#231f20" stroke-width="0.9"/>
<text x="428.40000000000003" y="401.5" font-size="7.6" text-anchor="middle" font-weight="normal" font-style="normal" fill="#231f20" stroke="#231f20" stroke-width="0.08" >ZΔ3</text>
<line x1="435.00" y1="307.50" x2="435.00" y2="326.55" stroke="#231f20" stroke-width="0.8"/>
<line x1="432.50" y1="307.50" x2="437.50" y2="307.50" stroke="#231f20" stroke-width="0.8"/>
<line x1="435.00" y1="326.55" x2="435.00" y2="345.60" stroke="#7a0a1c" stroke-width="0.8"/>
<line x1="432.50" y1="345.60" x2="437.50" y2="345.60" stroke="#7a0a1c" stroke-width="0.8"/>
<rect x="452.90" y="303.51" width="8.20" height="85.39" fill="#465266" />
<rect x="466.00" y="330.01" width="8.40" height="58.89" fill="#cc0a2c" />
<line x1="463.60" y1="388.90" x2="463.60" y2="390.90" stroke="#231f20" stroke-width="0.9"/>
<text x="463.6" y="401.5" font-size="7.6" text-anchor="middle" font-weight="normal" font-style="normal" fill="#231f20" stroke="#231f20" stroke-width="0.08" >ZΔ4</text>
<line x1="470.20" y1="317.89" x2="470.20" y2="330.01" stroke="#231f20" stroke-width="0.8"/>
<line x1="467.70" y1="317.89" x2="472.70" y2="317.89" stroke="#231f20" stroke-width="0.8"/>
<line x1="470.20" y1="330.01" x2="470.20" y2="342.14" stroke="#7a0a1c" stroke-width="0.8"/>
<line x1="467.70" y1="342.14" x2="472.70" y2="342.14" stroke="#7a0a1c" stroke-width="0.8"/>
<polyline points="399.3,288.7 399.3,277.5 470.3,277.5 470.3,318" fill="none" stroke="#4d4d4f" stroke-width="0.9"/>
<circle cx="432.40" cy="273.5" r="1.1" fill="#333"/>
<circle cx="435.00" cy="273.5" r="1.1" fill="#333"/>
<circle cx="437.60" cy="273.5" r="1.1" fill="#333"/>
<polyline points="399.3,384 399.3,293.4 435,293.4 435,306.5" fill="none" stroke="#4d4d4f" stroke-width="0.9"/>
<circle cx="415.70" cy="289.7" r="1.1" fill="#333"/>
<circle cx="418.30" cy="289.7" r="1.1" fill="#333"/>
<text transform="translate(352,344.6) rotate(-90)" font-size="8" text-anchor="middle" fill="#231f20" stroke="#231f20" stroke-width="0.25" textLength="91.5" lengthAdjust="spacingAndGlyphs">MFI normalised to DMSO control</text>
<text x="334.4" y="436.2" font-size="11" text-anchor="start" font-weight="bold" font-style="normal" fill="#000" stroke="#000" stroke-width="0.2" >G</text>
<line x1="377.70" y1="467.30" x2="377.70" y2="558.50" stroke="#231f20" stroke-width="0.9"/>
<line x1="374.50" y1="558.50" x2="377.70" y2="558.50" stroke="#231f20" stroke-width="0.9"/>
<text x="371.8" y="560.9" font-size="7.3" text-anchor="end" font-weight="normal" font-style="normal" fill="#231f20" stroke="#231f20" stroke-width="0.2" >0</text>
<line x1="374.50" y1="540.56" x2="377.70" y2="540.56" stroke="#231f20" stroke-width="0.9"/>
<text x="371.8" y="542.9599999999999" font-size="7.3" text-anchor="end" font-weight="normal" font-style="normal" fill="#231f20" stroke="#231f20" stroke-width="0.2" >20</text>
<line x1="374.50" y1="522.62" x2="377.70" y2="522.62" stroke="#231f20" stroke-width="0.9"/>
<text x="371.8" y="525.02" font-size="7.3" text-anchor="end" font-weight="normal" font-style="normal" fill="#231f20" stroke="#231f20" stroke-width="0.2" >40</text>
<line x1="374.50" y1="504.68" x2="377.70" y2="504.68" stroke="#231f20" stroke-width="0.9"/>
<text x="371.8" y="507.08" font-size="7.3" text-anchor="end" font-weight="normal" font-style="normal" fill="#231f20" stroke="#231f20" stroke-width="0.2" >60</text>
<line x1="374.50" y1="486.74" x2="377.70" y2="486.74" stroke="#231f20" stroke-width="0.9"/>
<text x="371.8" y="489.14" font-size="7.3" text-anchor="end" font-weight="normal" font-style="normal" fill="#231f20" stroke="#231f20" stroke-width="0.2" >80</text>
<line x1="374.50" y1="468.80" x2="377.70" y2="468.80" stroke="#231f20" stroke-width="0.9"/>
<text x="371.8" y="471.2" font-size="7.3" text-anchor="end" font-weight="normal" font-style="normal" fill="#231f20" stroke="#231f20" stroke-width="0.2" >100</text>
<line x1="377.70" y1="558.50" x2="479.70" y2="558.50" stroke="#231f20" stroke-width="0.9"/>
<rect x="382.20" y="470.06" width="8.20" height="88.44" fill="#465266" />
<rect x="395.30" y="545.49" width="8.40" height="13.01" fill="#33a7e0" />
<line x1="392.90" y1="558.50" x2="392.90" y2="560.50" stroke="#231f20" stroke-width="0.9"/>
<text x="392.90000000000003" y="571.1" font-size="7.6" text-anchor="middle" font-weight="normal" font-style="normal" fill="#231f20" stroke="#231f20" stroke-width="0.08" >Z-A</text>
<line x1="399.50" y1="540.11" x2="399.50" y2="545.49" stroke="#231f20" stroke-width="0.8"/>
<line x1="397.00" y1="540.11" x2="402.00" y2="540.11" stroke="#231f20" stroke-width="0.8"/>
<line x1="399.50" y1="545.49" x2="399.50" y2="550.88" stroke="#16406a" stroke-width="0.8"/>
<line x1="397.00" y1="550.88" x2="402.00" y2="550.88" stroke="#16406a" stroke-width="0.8"/>
<rect x="417.70" y="470.06" width="8.20" height="88.44" fill="#465266" />
<rect x="430.80" y="481.81" width="8.40" height="76.69" fill="#33a7e0" />
<line x1="428.40" y1="558.50" x2="428.40" y2="560.50" stroke="#231f20" stroke-width="0.9"/>
<text x="428.40000000000003" y="571.1" font-size="7.6" text-anchor="middle" font-weight="normal" font-style="normal" fill="#231f20" stroke="#231f20" stroke-width="0.08" >ZΔ3</text>
<line x1="435.00" y1="478.22" x2="435.00" y2="481.81" stroke="#231f20" stroke-width="0.8"/>
<line x1="432.50" y1="478.22" x2="437.50" y2="478.22" stroke="#231f20" stroke-width="0.8"/>
<line x1="435.00" y1="481.81" x2="435.00" y2="485.39" stroke="#16406a" stroke-width="0.8"/>
<line x1="432.50" y1="485.39" x2="437.50" y2="485.39" stroke="#16406a" stroke-width="0.8"/>
<rect x="452.90" y="470.06" width="8.20" height="88.44" fill="#465266" />
<rect x="466.00" y="490.78" width="8.40" height="67.72" fill="#33a7e0" />
<line x1="463.60" y1="558.50" x2="463.60" y2="560.50" stroke="#231f20" stroke-width="0.9"/>
<text x="463.6" y="571.1" font-size="7.6" text-anchor="middle" font-weight="normal" font-style="normal" fill="#231f20" stroke="#231f20" stroke-width="0.08" >ZΔ4</text>
<line x1="470.20" y1="471.94" x2="470.20" y2="490.78" stroke="#231f20" stroke-width="0.8"/>
<line x1="467.70" y1="471.94" x2="472.70" y2="471.94" stroke="#231f20" stroke-width="0.8"/>
<line x1="470.20" y1="490.78" x2="470.20" y2="509.61" stroke="#16406a" stroke-width="0.8"/>
<line x1="467.70" y1="509.61" x2="472.70" y2="509.61" stroke="#16406a" stroke-width="0.8"/>
<polyline points="399,453.3 399,441.7 471.8,441.7 471.8,462.5" fill="none" stroke="#4d4d4f" stroke-width="0.9"/>
<circle cx="433.50" cy="437.3" r="1.1" fill="#333"/>
<circle cx="436.10" cy="437.3" r="1.1" fill="#333"/>
<polyline points="399,540 399,460 434.5,460 434.5,477" fill="none" stroke="#4d4d4f" stroke-width="0.9"/>
<circle cx="412.80" cy="457" r="1.1" fill="#333"/>
<circle cx="415.40" cy="457" r="1.1" fill="#333"/>
<circle cx="418.00" cy="457" r="1.1" fill="#333"/>
<circle cx="420.60" cy="457" r="1.1" fill="#333"/>
<text transform="translate(352,512.65) rotate(-90)" font-size="8" text-anchor="middle" fill="#231f20" stroke="#231f20" stroke-width="0.25" textLength="91.5" lengthAdjust="spacingAndGlyphs">MFI normalised to DMSO control</text>
<rect x="0" y="0" width="1" height="588" fill="#646464"/>
<rect x="0" y="0" width="520" height="0.9" fill="#646464"/>
<rect x="518.8" y="0" width="1.2" height="588" fill="#646464"/>
<rect x="0" y="586.8" width="520" height="1.2" fill="#646464"/>
</svg>
</body></html>
